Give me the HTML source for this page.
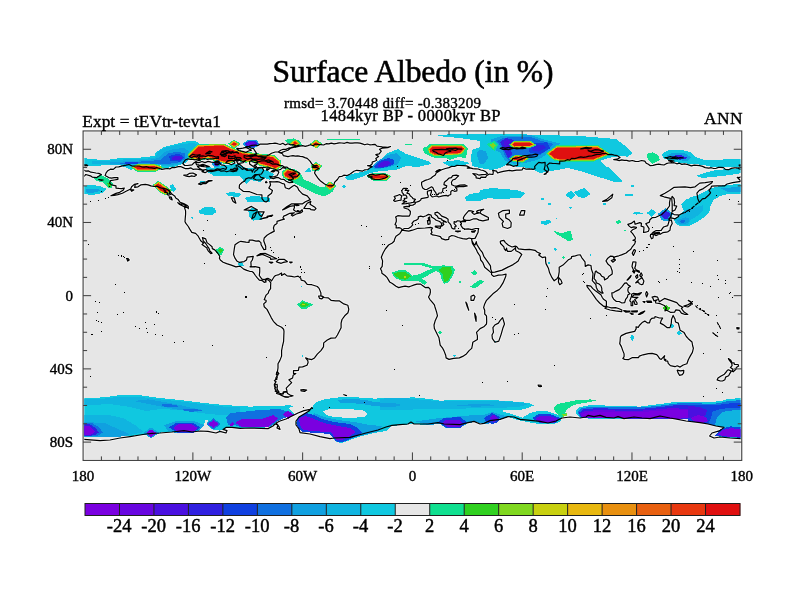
<!DOCTYPE html>
<html lang="en"><head><meta charset="utf-8"><title>Surface Albedo (in %)</title>
<style>html,body{margin:0;padding:0;background:#fff;}svg{display:block;}text{font-family:"Liberation Serif",serif;fill:#000;}</style></head><body>
<svg width="800" height="600" viewBox="0 0 800 600">
<rect x="0" y="0" width="800" height="600" fill="#ffffff"/>
<defs><clipPath id="mapclip"><rect x="84.3" y="132.15" width="656.25" height="327.05"/></clipPath></defs>
<rect x="84.3" y="132.15" width="656.25" height="327.05" fill="#e6e6e6"/>
<g clip-path="url(#mapclip)">
<path id="coast" fill="none" stroke-linejoin="round" d="M105.1 175.6 L106.1 172.9 L107.8 170.7 L110.4 169.2 L113.3 169.4 L116.0 167.0 L118.8 166.9 L121.5 166.1 L126.1 165.2 L129.0 164.5 L131.6 165.8 L134.3 166.1 L136.8 166.0 L139.3 166.0 L141.6 166.8 L144.1 167.1 L146.6 166.7 L149.0 167.6 L151.7 167.8 L154.5 168.3 L157.0 167.7 L159.4 168.5 L161.8 169.4 L164.5 168.8 L167.3 168.5 L169.8 168.9 L172.1 167.4 L174.6 167.6 L178.2 166.6 L181.1 166.7 L183.7 167.9 L185.6 168.7 L188.3 168.6 L191.0 167.9 L193.3 169.4 L195.9 169.0 L198.4 169.4 L201.2 169.9 L203.9 170.9 L202.0 171.6 L205.1 172.7 L208.1 171.0 L211.2 171.6 L214.8 170.9 L218.5 169.8 L221.0 171.2 L224.0 170.8 L226.7 171.8 L229.9 170.8 L233.1 171.6 L236.8 170.9 L237.7 168.5 L235.9 165.7 L239.5 164.1 L242.3 166.6 L244.1 168.5 L246.8 170.3 L251.4 169.8 L252.3 172.1 L253.5 169.4 L256.0 167.9 L259.2 167.6 L262.4 168.1 L263.7 170.3 L261.5 174.0 L257.8 174.5 L255.1 174.5 L253.3 176.2 L251.4 178.2 L248.6 177.8 L245.9 178.9 L244.6 181.1 L242.3 182.2 L239.5 184.9 L239.2 188.1 L243.2 191.3 L249.6 191.7 L256.9 194.5 L261.9 194.8 L262.0 198.7 L264.2 201.4 L266.1 202.0 L268.3 200.5 L267.9 195.9 L271.5 193.2 L272.5 190.4 L268.8 188.1 L270.6 184.9 L269.7 181.6 L272.2 181.8 L274.6 181.8 L277.0 181.6 L279.6 182.2 L281.9 183.3 L284.4 184.0 L285.3 187.7 L288.9 189.0 L292.6 186.2 L294.4 185.3 L297.5 187.2 L299.0 190.4 L302.6 194.1 L307.2 195.9 L310.3 199.6 L305.4 201.8 L302.6 203.8 L291.7 203.8 L287.1 206.4 L282.5 210.0 L284.4 209.3 L289.8 206.4 L294.4 205.6 L294.4 207.8 L293.5 209.7 L295.3 211.1 L296.2 211.7 L299.9 211.8 L302.1 209.7 L302.6 211.5 L300.8 212.9 L296.2 214.0 L292.6 216.1 L291.3 215.1 L294.4 212.8 L289.8 213.3 L286.2 215.1 L283.8 216.1 L282.9 217.9 L284.4 219.2 L281.6 219.9 L277.0 221.4 L277.0 223.4 L274.3 225.2 L273.4 228.0 L274.3 231.1 L270.6 233.1 L267.0 235.3 L264.2 238.0 L263.7 240.8 L265.7 246.3 L265.7 249.4 L263.9 249.6 L261.1 244.8 L260.9 242.6 L258.7 240.8 L256.0 241.1 L252.3 240.2 L249.2 240.2 L249.0 242.4 L245.9 242.2 L240.8 241.3 L238.6 242.2 L235.0 244.8 L234.4 248.1 L233.5 254.5 L235.0 258.2 L236.8 260.9 L239.5 262.4 L244.1 261.6 L246.5 260.0 L247.2 257.2 L253.3 256.3 L252.3 260.0 L250.9 262.0 L251.1 266.4 L250.0 266.8 L255.1 266.6 L259.7 267.7 L259.7 271.9 L259.3 275.5 L260.6 277.4 L262.0 279.2 L264.2 279.6 L266.4 278.7 L267.9 278.3 L270.6 279.8 L271.5 281.0 L274.3 276.5 L275.6 275.5 L278.9 274.6 L281.6 273.0 L281.6 275.5 L284.4 273.7 L287.1 275.9 L291.7 276.3 L294.4 277.0 L298.1 276.1 L300.8 278.3 L301.2 280.1 L304.5 281.0 L307.2 284.3 L311.8 284.7 L317.3 286.5 L319.1 288.4 L320.9 292.9 L320.9 295.7 L323.7 297.5 L328.3 297.9 L331.0 300.3 L335.6 300.8 L339.2 300.8 L343.8 303.9 L347.8 305.2 L348.8 309.4 L348.0 312.7 L344.7 315.8 L342.0 319.5 L341.1 323.1 L341.1 327.7 L339.2 331.4 L337.4 335.0 L335.6 337.8 L331.0 338.1 L327.3 340.0 L323.7 342.9 L323.5 346.9 L320.9 350.6 L317.3 354.2 L314.5 357.9 L311.8 359.6 L308.1 358.8 L305.6 357.9 L307.8 360.6 L308.1 362.5 L307.0 365.2 L302.6 366.9 L299.0 367.1 L298.4 370.4 L293.5 370.7 L293.5 373.5 L295.9 373.5 L293.1 375.3 L292.6 378.0 L288.9 379.9 L291.7 382.6 L288.9 385.4 L286.2 388.1 L287.1 391.4 L283.4 391.8 L282.5 394.1 L279.8 393.2 L277.0 391.8 L275.2 389.0 L274.3 384.4 L276.1 381.7 L274.3 380.8 L277.0 378.0 L277.0 375.4 L278.9 373.5 L277.4 371.6 L278.0 368.0 L278.0 363.8 L279.8 360.6 L281.6 356.1 L281.6 350.6 L282.5 346.0 L283.6 341.4 L283.8 335.9 L284.0 331.4 L283.6 329.2 L281.6 327.3 L277.0 325.0 L273.4 321.3 L271.2 317.6 L269.4 314.0 L267.0 309.4 L264.2 306.7 L263.7 303.9 L266.1 301.7 L266.1 300.3 L264.2 299.7 L265.1 297.5 L266.1 295.1 L268.3 293.1 L268.8 291.1 L270.6 288.7 L270.6 285.6 L270.8 282.9 L269.2 280.7 L267.0 279.2 L265.5 280.5 L266.1 281.9 L264.2 282.3 L262.4 280.7 L259.3 280.1 L256.9 277.4 L255.4 275.5 L253.3 272.4 L252.0 271.5 L249.6 271.3 L246.8 270.4 L243.7 269.1 L240.4 266.4 L238.6 266.4 L235.9 266.9 L231.3 265.1 L226.7 263.6 L223.1 262.2 L220.3 260.0 L219.4 258.2 L219.8 256.3 L217.6 253.0 L214.8 249.9 L212.3 248.6 L212.1 246.8 L209.3 244.4 L207.0 242.6 L205.7 238.9 L202.4 237.5 L203.3 240.8 L205.7 243.5 L207.5 246.3 L208.8 248.1 L209.9 250.8 L212.1 253.2 L210.8 253.6 L208.4 251.2 L207.1 249.0 L207.0 248.1 L204.8 246.6 L202.0 244.6 L203.5 243.0 L200.7 240.8 L198.9 237.5 L198.0 235.8 L195.6 233.4 L191.8 232.3 L189.6 228.9 L188.3 226.5 L185.9 223.4 L185.0 221.7 L185.2 218.8 L185.6 214.2 L185.6 210.9 L184.3 207.1 L187.4 207.3 L188.3 208.7 L188.3 206.4 L187.4 205.6 L183.7 203.6 L180.1 202.3 L178.2 199.6 L176.0 198.2 L174.6 195.9 L171.8 194.1 L169.1 190.4 L166.9 189.2 L164.5 188.6 L161.8 188.2 L159.4 187.4 L157.2 186.2 L154.0 186.5 L150.8 185.9 L148.1 184.9 L145.3 184.4 L140.7 184.9 L138.0 186.8 L134.7 187.3 L135.2 184.4 L138.0 183.7 L134.3 184.4 L131.6 186.8 L130.7 189.0 L126.1 191.3 L122.4 193.2 L117.9 194.6 L114.2 195.4 L110.9 195.7 L116.0 193.4 L119.7 192.3 L123.4 189.9 L124.3 188.1 L121.5 188.6 L118.8 188.4 L116.0 188.1 L116.0 185.9 L111.5 184.9 L109.6 183.1 L110.5 180.7 L114.2 180.0 L117.9 179.3 L117.9 177.6 L114.2 177.6 L111.5 178.1 L108.7 177.6Z M278.9 152.5 L282.1 152.4 L285.0 151.2 L288.0 150.2 L290.5 148.3 L293.5 147.4 L296.6 147.0 L299.6 146.2 L302.6 145.6 L305.3 146.3 L307.9 145.6 L310.5 144.7 L313.1 145.7 L315.7 144.0 L318.3 144.7 L320.9 144.7 L323.6 145.0 L326.1 143.7 L328.8 143.9 L331.3 143.1 L334.1 143.8 L336.7 143.4 L339.2 142.8 L341.9 143.0 L344.5 143.3 L347.1 142.4 L349.7 143.1 L352.3 143.1 L354.9 142.9 L357.5 142.8 L360.0 143.1 L362.4 143.9 L364.7 144.8 L367.3 144.0 L369.7 144.8 L372.2 144.7 L374.9 144.3 L377.0 146.1 L379.5 146.5 L382.2 146.9 L385.0 147.1 L387.7 147.3 L390.5 146.5 L387.8 147.7 L385.0 148.0 L382.1 148.2 L379.5 149.3 L381.3 151.1 L379.2 153.8 L375.8 154.7 L378.6 156.6 L375.8 158.4 L376.7 160.2 L374.5 161.2 L372.2 162.1 L372.2 163.9 L370.2 165.5 L367.6 165.7 L372.2 166.6 L370.3 167.6 L367.9 169.5 L364.9 169.8 L362.3 171.2 L359.4 170.7 L356.6 170.3 L353.9 171.2 L350.2 174.0 L347.2 175.5 L343.8 175.2 L341.7 176.5 L339.2 176.7 L337.4 179.5 L334.7 182.2 L333.8 184.9 L331.9 185.9 L329.2 185.5 L326.8 185.0 L324.6 184.0 L320.9 181.3 L318.2 178.5 L316.4 175.8 L314.5 173.0 L315.5 170.3 L319.1 168.5 L316.0 167.2 L312.7 167.6 L312.7 166.1 L317.3 165.7 L314.2 165.7 L311.8 163.9 L310.0 161.1 L307.2 158.4 L304.9 157.6 L302.6 156.6 L300.2 156.3 L297.8 155.8 L295.3 156.2 L292.9 155.6 L290.4 156.0 L288.0 156.6 L283.4 155.7 L282.5 153.8Z M367.6 175.8 L369.7 174.5 L372.2 174.1 L375.8 175.2 L379.5 174.5 L383.2 174.0 L385.9 174.9 L387.7 176.7 L385.0 178.0 L382.3 178.9 L379.5 179.5 L374.9 179.3 L371.3 178.7 L372.2 177.6 L368.5 176.9 L372.2 176.2Z M286.9 391.9 L287.6 393.6 L290.8 395.4 L293.1 395.8 L290.8 396.5 L287.1 396.9 L284.4 396.7 L281.6 395.4 L280.7 394.5 L283.4 394.0 L283.6 392.3Z M300.8 389.9 L303.6 389.6 L306.7 390.1 L304.5 391.4 L301.2 391.0Z M401.6 230.2 L408.8 231.2 L412.4 230.2 L417.9 228.3 L425.2 228.0 L430.7 227.4 L432.6 228.0 L431.1 229.8 L432.0 232.5 L430.7 233.8 L432.6 234.9 L436.2 235.5 L440.4 236.6 L441.7 238.6 L445.4 239.9 L448.7 239.3 L449.0 237.1 L451.8 235.5 L454.5 236.0 L458.2 237.5 L462.7 238.6 L466.4 239.1 L469.1 238.0 L471.5 238.6 L471.9 240.8 L472.4 243.5 L474.3 246.3 L476.5 249.9 L477.4 252.1 L480.1 256.3 L480.7 260.0 L482.9 262.7 L484.7 267.3 L487.4 269.5 L490.2 271.9 L491.6 272.8 L491.5 274.6 L493.8 276.5 L498.4 275.2 L502.1 275.0 L506.1 274.1 L505.7 276.5 L503.0 282.9 L500.2 287.4 L496.6 291.1 L492.9 293.8 L489.3 297.5 L486.5 300.3 L484.7 303.9 L483.6 307.6 L484.7 310.3 L484.7 314.0 L486.5 315.8 L486.7 321.3 L486.5 324.0 L483.8 326.8 L480.1 328.6 L476.5 332.3 L477.4 335.9 L477.4 339.6 L472.8 342.3 L472.4 345.1 L471.7 348.4 L469.1 350.6 L466.4 353.9 L462.7 356.4 L459.4 357.9 L453.6 358.3 L449.0 359.4 L446.1 357.9 L445.7 355.2 L443.9 350.6 L442.4 347.8 L440.2 345.1 L439.0 337.8 L437.1 334.1 L434.4 328.6 L434.0 325.0 L435.3 320.4 L437.5 315.8 L436.6 312.1 L434.9 306.7 L434.4 304.8 L432.6 302.6 L429.8 299.3 L428.5 297.0 L429.8 294.8 L430.4 292.0 L430.2 289.3 L428.5 287.4 L425.2 287.6 L422.5 285.6 L420.7 284.1 L417.0 284.1 L414.3 284.9 L410.6 286.2 L408.8 286.9 L405.1 286.2 L401.4 286.9 L398.7 287.6 L396.0 286.2 L392.3 283.4 L389.6 281.9 L388.3 279.6 L387.2 277.7 L385.0 275.5 L381.9 273.2 L381.7 271.0 L380.4 268.8 L382.2 266.4 L382.6 260.9 L381.3 257.2 L383.2 252.7 L385.3 249.0 L388.6 245.0 L392.3 243.0 L394.1 241.3 L394.7 238.9 L396.0 236.2 L399.6 233.8 L401.4 231.2Z M502.6 317.6 L504.5 324.0 L503.0 327.7 L501.2 334.1 L498.8 341.1 L495.1 342.3 L492.4 338.7 L492.0 335.0 L493.5 332.3 L492.9 327.7 L494.8 325.0 L498.4 323.1 L500.2 320.4Z M402.4 229.8 L400.9 228.3 L398.9 227.6 L396.1 228.0 L396.3 225.2 L395.0 224.8 L396.3 221.5 L396.3 218.8 L395.6 217.0 L397.8 215.7 L402.4 216.1 L406.0 216.2 L409.1 216.2 L410.2 214.2 L410.4 211.5 L408.4 209.3 L404.2 208.0 L403.8 206.9 L406.9 206.4 L409.5 206.7 L409.1 204.7 L410.4 205.4 L412.8 205.1 L415.2 203.8 L415.4 202.5 L418.8 201.4 L420.7 200.0 L421.2 198.7 L425.2 197.8 L428.0 197.4 L428.3 195.9 L427.4 194.1 L427.4 191.3 L430.4 190.4 L431.6 190.1 L431.3 192.3 L430.7 194.1 L430.4 195.0 L432.2 196.8 L434.4 196.5 L437.1 195.9 L438.6 197.0 L442.6 195.9 L446.3 195.4 L448.1 196.1 L449.0 195.2 L450.8 194.5 L450.8 191.7 L452.1 190.3 L454.5 191.3 L456.9 190.8 L456.9 189.0 L455.4 187.3 L459.1 186.6 L463.7 186.6 L467.3 186.0 L464.6 184.9 L460.0 185.1 L457.3 185.8 L454.5 186.0 L451.8 184.8 L451.4 182.2 L452.7 180.0 L455.3 179.1 L457.2 177.1 L458.7 175.8 L456.3 175.2 L452.7 175.6 L451.4 177.6 L448.9 178.1 L447.2 180.0 L444.4 182.2 L443.9 184.6 L446.8 185.9 L446.3 187.7 L443.0 188.6 L442.6 191.3 L441.7 192.8 L439.0 193.0 L438.4 194.3 L436.2 194.3 L435.8 192.6 L434.0 190.4 L432.9 187.7 L431.6 186.8 L429.8 187.7 L427.1 189.3 L424.9 189.5 L422.7 188.1 L421.6 184.9 L421.6 182.2 L425.2 180.4 L428.0 179.5 L430.7 178.5 L432.6 176.7 L435.3 174.9 L436.2 173.0 L439.0 171.2 L441.7 169.8 L445.4 168.5 L449.0 167.6 L451.6 166.4 L454.5 166.5 L456.9 165.4 L459.4 165.5 L463.7 165.7 L466.5 165.9 L469.1 167.0 L467.3 168.1 L470.1 167.9 L472.8 168.7 L475.5 168.8 L478.3 169.0 L480.7 170.0 L483.2 170.5 L485.6 171.6 L487.4 173.4 L485.6 174.5 L481.9 174.7 L479.1 175.2 L476.5 174.0 L472.8 173.6 L476.1 176.3 L476.1 177.8 L480.1 178.7 L481.0 177.1 L485.6 177.4 L486.5 175.8 L489.3 174.1 L492.9 174.5 L493.3 172.1 L492.6 170.3 L496.6 171.2 L497.5 173.0 L500.2 172.1 L503.3 171.4 L506.3 170.8 L509.4 170.3 L512.1 170.9 L516.7 170.1 L519.5 170.1 L522.2 169.8 L523.1 167.9 L526.2 169.2 L529.5 168.8 L533.2 169.4 L535.0 168.8 L534.6 166.6 L535.9 165.2 L538.7 162.4 L541.9 162.8 L545.1 162.4 L545.1 165.7 L544.2 169.4 L546.9 171.2 L546.0 174.0 L544.2 174.3 L547.8 172.1 L548.7 169.4 L546.9 165.4 L549.6 163.0 L552.4 163.3 L555.1 163.5 L559.7 163.9 L559.7 161.1 L562.2 161.1 L564.8 160.9 L567.2 159.7 L569.8 160.2 L571.6 158.4 L574.8 158.6 L577.7 157.7 L580.7 156.9 L583.5 157.4 L586.3 156.8 L589.0 156.1 L591.7 156.0 L594.4 155.2 L597.1 154.4 L600.0 154.3 L602.7 153.5 L605.6 153.3 L608.2 154.7 L611.3 154.3 L614.3 155.1 L617.3 155.7 L620.1 157.5 L617.1 159.2 L613.7 159.7 L616.5 159.9 L619.2 160.6 L621.7 159.9 L624.2 160.4 L626.7 160.4 L629.2 161.1 L632.3 160.5 L635.3 161.3 L638.4 161.5 L641.5 160.5 L644.8 161.1 L646.2 163.2 L648.4 164.3 L650.3 165.7 L653.1 165.4 L655.8 164.6 L658.5 164.1 L661.3 164.6 L664.0 165.0 L666.2 163.7 L668.6 163.0 L671.3 162.8 L674.1 162.7 L676.8 163.8 L679.5 163.2 L681.9 164.4 L684.4 163.9 L686.9 164.3 L689.2 165.1 L691.4 165.9 L694.2 165.1 L696.9 165.4 L699.7 165.7 L702.5 166.4 L705.2 167.6 L708.8 168.1 L711.3 167.7 L713.7 168.5 L716.1 168.3 L718.5 167.4 L721.0 167.3 L723.5 167.6 L725.3 169.4 L728.5 169.7 L731.4 168.4 L734.4 167.9 L737.0 167.8 L739.3 168.9 L741.8 169.4 L742.6 171.8 L741.7 174.3 L741.8 176.7 L739.0 177.6 L737.2 177.3 L739.9 180.0 L740.8 181.3 L732.6 182.6 L727.1 184.0 L724.4 185.9 L717.1 185.9 L711.6 186.2 L710.6 188.6 L708.8 189.9 L710.6 192.8 L708.8 195.0 L705.2 198.3 L702.4 198.9 L699.3 202.3 L697.8 198.7 L696.9 193.2 L699.3 190.4 L703.3 188.6 L707.0 185.9 L711.6 183.1 L712.5 181.5 L705.2 182.7 L699.7 183.1 L695.1 186.8 L690.5 187.7 L685.0 186.8 L678.6 187.1 L674.1 187.3 L669.5 190.4 L664.9 193.2 L660.3 195.6 L664.0 196.8 L670.4 198.3 L669.5 202.3 L669.5 206.0 L666.7 209.7 L662.2 214.2 L655.8 217.3 L652.1 217.7 L649.9 219.7 L649.4 222.1 L645.7 223.7 L647.5 226.1 L649.2 228.9 L648.4 231.2 L645.7 232.2 L643.5 232.5 L643.9 228.9 L643.9 227.0 L641.1 226.1 L641.5 223.4 L639.8 222.6 L635.1 224.3 L634.4 221.0 L631.1 223.4 L627.8 224.3 L629.2 226.1 L631.1 227.6 L633.8 226.9 L636.5 227.4 L636.0 228.3 L632.5 229.8 L630.7 231.6 L632.5 233.4 L635.3 237.5 L635.3 239.3 L632.9 240.2 L635.6 241.1 L634.7 243.9 L632.0 247.2 L630.5 249.6 L628.3 251.0 L626.1 253.0 L621.5 254.9 L618.8 255.8 L614.6 256.9 L614.0 258.5 L613.1 256.3 L610.6 256.1 L607.8 258.2 L606.0 260.9 L607.8 264.0 L610.6 266.4 L612.2 271.0 L612.2 274.1 L608.6 276.6 L607.6 278.3 L604.5 279.9 L604.2 277.4 L601.8 276.3 L600.0 273.7 L597.2 272.4 L596.5 271.0 L595.4 271.3 L594.5 275.5 L594.1 278.7 L595.9 280.7 L596.3 282.9 L598.7 283.8 L600.9 285.6 L601.8 288.4 L601.8 290.9 L603.1 293.1 L601.6 293.1 L597.8 290.6 L596.3 287.4 L595.9 284.7 L592.3 280.7 L592.6 277.4 L593.0 273.7 L591.4 269.1 L591.0 265.5 L588.1 264.9 L585.3 266.4 L585.0 261.8 L581.7 257.6 L580.4 254.9 L578.0 255.0 L575.3 255.8 L571.6 256.7 L571.2 258.5 L568.3 259.8 L563.0 265.1 L559.2 267.3 L559.2 271.9 L558.4 276.6 L557.0 278.7 L555.5 279.8 L554.2 280.8 L552.0 277.7 L549.6 272.8 L548.4 268.2 L546.0 263.6 L545.6 260.9 L545.6 257.2 L544.2 257.2 L542.3 257.6 L538.7 254.9 L540.5 253.6 L537.4 252.3 L535.0 250.3 L529.5 249.4 L524.9 249.6 L518.5 248.8 L516.7 246.6 L515.2 246.1 L512.1 247.0 L508.5 245.3 L505.4 242.6 L503.9 240.4 L501.2 240.8 L500.2 241.7 L500.6 243.5 L503.9 246.8 L504.3 248.8 L505.7 250.5 L506.6 248.1 L506.8 249.9 L507.6 251.4 L511.2 251.4 L514.9 248.5 L515.4 247.5 L515.8 250.8 L519.5 252.5 L521.8 254.5 L519.5 258.3 L518.2 260.9 L515.8 262.7 L513.1 264.6 L507.9 267.1 L502.1 270.1 L494.8 272.2 L492.0 272.4 L490.7 269.1 L490.5 265.8 L487.4 261.3 L483.8 256.3 L482.5 252.7 L480.1 249.6 L476.8 244.4 L476.3 241.7 L475.2 244.4 L475.0 245.0 L473.7 244.1 L472.1 240.9 L471.5 238.6 L475.0 238.4 L476.5 235.6 L478.1 232.3 L478.3 229.8 L478.7 228.5 L475.5 228.5 L471.9 229.6 L468.2 228.9 L465.5 229.2 L462.7 228.1 L460.9 225.4 L461.5 223.4 L460.4 222.5 L461.8 221.5 L465.5 221.7 L465.7 220.3 L470.1 220.3 L473.7 218.8 L476.5 218.8 L479.2 220.1 L482.9 220.8 L488.4 219.7 L488.4 217.5 L485.1 215.9 L481.9 214.2 L480.1 212.9 L481.0 210.6 L483.8 209.3 L481.9 209.5 L477.0 210.9 L476.5 212.0 L479.2 212.8 L477.0 213.3 L474.1 214.4 L471.9 212.6 L473.7 211.5 L471.0 210.9 L468.8 210.6 L466.8 212.9 L464.9 215.1 L463.7 217.0 L463.3 218.3 L464.0 219.7 L465.5 220.1 L463.7 220.6 L461.8 221.2 L460.4 221.9 L460.0 221.0 L457.2 220.8 L456.0 222.1 L454.1 221.7 L454.1 223.7 L455.1 224.7 L456.3 226.1 L454.9 226.5 L454.9 228.9 L453.4 228.9 L452.1 228.3 L451.2 226.5 L451.2 225.6 L449.9 223.7 L448.1 221.9 L448.1 219.2 L446.3 217.9 L441.7 216.1 L439.9 214.2 L438.6 212.9 L437.5 212.2 L434.9 212.8 L435.1 214.6 L437.3 216.1 L438.4 218.1 L441.7 219.0 L441.7 219.9 L445.4 221.5 L446.3 222.3 L445.2 221.9 L443.5 221.5 L442.8 223.0 L443.9 224.3 L442.6 225.6 L441.1 226.2 L441.7 224.5 L441.0 222.5 L439.0 221.2 L436.2 220.3 L434.0 218.4 L431.6 217.0 L431.1 215.1 L428.5 214.4 L426.1 215.7 L423.4 216.8 L420.7 216.2 L418.3 216.8 L418.3 218.8 L416.5 220.1 L413.9 221.0 L411.9 223.4 L412.8 224.8 L411.1 226.7 L408.8 228.3 L404.4 228.5Z M83.1 169.6 L85.6 171.1 L88.6 170.9 L90.8 172.2 L93.4 172.5 L95.9 173.0 L98.8 173.4 L101.4 174.5 L96.8 177.6 L92.2 177.1 L90.4 175.8 L85.8 174.5 L84.0 176.3 L83.1 176.7 M402.0 204.0 L406.0 203.6 L410.6 202.9 L415.0 202.0 L413.7 201.4 L415.5 199.4 L413.0 198.7 L412.4 197.6 L410.2 195.7 L409.3 193.9 L406.9 193.2 L408.8 190.3 L405.1 190.3 L406.8 188.4 L403.3 188.4 L401.8 190.8 L402.2 192.6 L403.6 194.1 L403.1 195.2 L406.0 195.2 L406.9 197.0 L406.8 198.1 L404.2 198.3 L404.7 199.6 L402.9 200.9 L406.6 201.6 L404.7 202.0Z M401.1 200.1 L401.1 198.1 L401.8 195.9 L399.6 194.5 L396.9 195.7 L394.1 196.5 L395.4 198.3 L393.6 200.5 L395.0 201.4 L398.7 200.5Z M432.6 150.2 L435.3 149.7 L438.0 149.6 L441.7 149.3 L445.4 149.6 L448.3 150.0 L450.8 151.4 L447.2 152.0 L445.0 153.3 L443.5 155.3 L440.8 154.5 L438.0 153.8 L436.0 152.2 L433.5 151.4Z M446.3 148.9 L449.4 148.3 L452.7 148.3 L455.8 148.1 L458.8 149.1 L461.8 149.1 L458.4 148.9 L455.4 150.5 L452.3 149.7 L449.0 150.2Z M506.6 164.8 L509.4 162.1 L511.6 160.6 L513.1 158.4 L516.2 158.2 L519.2 157.2 L522.2 156.2 L524.7 155.5 L527.4 155.7 L530.0 155.2 L532.5 154.8 L535.1 154.1 L537.8 154.7 L536.8 156.2 L534.3 157.0 L531.7 157.2 L529.1 157.0 L526.5 157.2 L524.0 158.0 L520.9 159.4 L517.6 160.6 L517.6 165.4 L513.1 166.3 L510.0 164.8Z M588.1 150.7 L590.6 151.2 L593.0 150.4 L595.4 149.6 L598.2 149.9 L600.9 150.3 L603.6 151.1 L600.5 152.3 L597.2 152.5 L594.7 152.7 L592.3 152.1 L589.9 151.4Z M586.2 147.4 L589.0 147.8 L591.7 147.8 L588.1 148.9 L585.6 148.2 L583.2 148.6 L580.7 148.9 L583.5 148.1Z M664.9 157.5 L667.7 157.3 L670.4 156.6 L672.8 157.4 L675.3 156.8 L677.7 157.5 L680.4 158.0 L683.2 157.9 L680.3 157.6 L677.7 158.8 L674.7 158.3 L671.6 158.6 L668.6 159.0Z M668.6 160.6 L671.3 160.7 L674.1 161.0 L671.3 161.7Z M500.2 148.3 L502.6 147.5 L505.2 148.1 L507.6 147.6 L510.6 147.4 L513.7 148.0 L516.7 147.8 L519.6 148.3 L522.2 147.1 L525.9 148.2 L522.8 148.6 L519.8 148.7 L516.7 148.9 L514.0 148.1 L511.2 148.8 L508.5 149.6 L505.7 149.1 L502.9 149.4Z M739.0 165.2 L741.8 164.8 L741.8 165.9 L739.9 166.1Z M83.1 164.8 L86.8 164.8 L87.7 165.7 L83.1 165.9 M651.9 233.4 L654.8 232.9 L659.4 232.3 L659.8 234.4 L662.7 232.7 L666.4 232.2 L668.2 231.6 L670.0 230.3 L670.4 227.0 L672.2 223.4 L671.3 219.9 L669.1 220.6 L668.6 222.8 L667.7 225.6 L663.6 227.0 L662.5 228.3 L661.2 230.3 L655.8 230.7 L653.0 232.3Z M668.9 219.7 L670.8 216.6 L671.7 212.6 L674.1 214.6 L678.3 214.8 L678.6 216.4 L675.0 218.8 L671.3 217.9 L669.1 218.3Z M650.6 234.4 L653.4 234.4 L653.0 238.0 L651.6 238.8 L650.3 236.2Z M654.8 233.8 L658.5 233.1 L658.0 234.7 L655.8 235.6 L654.5 234.7Z M672.2 196.3 L674.1 198.7 L674.6 202.3 L674.1 205.6 L676.8 206.0 L675.0 210.0 L672.2 211.5 L672.2 207.8 L672.2 204.2 L671.9 200.5 L671.7 197.9Z M634.7 249.6 L635.6 250.8 L633.4 255.4 L632.2 253.2 L633.8 249.9Z M614.6 259.1 L615.5 260.0 L612.8 262.2 L611.3 260.5Z M558.8 277.7 L561.0 280.1 L562.1 282.9 L559.7 284.7 L558.4 281.9Z M632.9 261.8 L636.0 262.0 L635.6 265.5 L634.7 268.2 L636.5 270.1 L639.3 271.0 L639.3 272.4 L636.5 271.0 L633.8 270.6 L633.1 269.1 L632.0 266.4 L632.5 263.6Z M635.6 282.9 L638.4 280.1 L642.0 277.7 L643.9 281.0 L643.0 284.1 L641.7 284.7 L639.3 283.8 L638.4 281.9Z M627.0 280.1 L631.1 275.5 L630.5 277.0 L627.9 279.9Z M639.8 275.5 L641.1 272.8 L642.4 275.2 L641.1 277.0Z M635.6 276.5 L637.5 274.6 L637.8 277.4 L636.5 278.3Z M632.5 271.1 L634.7 271.5 L634.2 273.2Z M611.8 292.9 L613.7 292.6 L616.1 291.1 L619.2 289.6 L621.9 286.9 L624.7 283.2 L626.5 282.9 L628.3 285.1 L630.5 286.2 L628.3 287.8 L627.8 290.2 L628.3 292.0 L630.1 293.8 L627.9 294.8 L627.4 297.1 L625.6 299.3 L624.7 302.6 L621.9 303.0 L619.2 301.5 L616.4 301.5 L613.7 299.3 L612.2 296.6Z M586.8 285.4 L590.8 286.2 L592.6 288.4 L595.4 290.7 L597.2 292.0 L600.9 294.8 L602.3 297.5 L603.6 299.3 L606.4 301.2 L606.4 306.3 L603.6 306.3 L599.6 303.0 L596.3 299.3 L593.6 295.3 L590.8 291.5 L587.2 286.9Z M604.9 308.1 L607.3 306.7 L610.9 307.8 L615.5 307.6 L618.6 308.5 L621.9 310.0 L621.7 311.6 L615.5 310.9 L610.0 310.0 L606.9 309.0Z M631.6 294.2 L633.4 293.3 L637.5 293.8 L641.5 292.7 L639.3 294.9 L633.8 294.9 L632.2 297.1 L634.7 297.3 L638.0 297.3 L635.6 299.0 L634.7 299.3 L637.1 303.0 L636.9 304.5 L634.9 304.3 L633.8 300.8 L632.7 301.2 L632.7 305.7 L631.1 305.7 L631.1 302.1 L629.8 300.8 L631.6 295.9Z M652.1 297.1 L654.8 296.4 L657.6 297.1 L659.4 301.7 L664.5 298.4 L670.4 300.4 L676.8 302.6 L679.2 305.4 L682.8 307.2 L681.4 308.5 L684.1 312.1 L687.8 314.5 L685.0 314.5 L681.4 313.1 L679.5 310.3 L675.9 309.8 L674.6 312.1 L670.4 312.3 L666.7 310.3 L664.9 310.9 L666.4 308.1 L664.9 305.7 L660.3 303.7 L655.8 303.0 L655.4 301.2 L657.2 299.7 L653.9 300.8 L653.0 298.4Z M683.8 306.1 L686.9 305.2 L690.5 303.4 L691.1 304.8 L687.8 307.0Z M688.3 300.4 L691.4 302.1 L692.4 304.1 L690.9 302.3Z M645.7 293.8 L646.6 291.6 L647.9 293.8 L646.6 297.0Z M646.6 301.2 L651.2 301.2 L651.7 302.4 L647.5 302.3Z M643.0 301.5 L645.1 301.5 L644.4 302.6Z M623.7 310.7 L626.5 310.9 L630.1 311.0 L629.2 311.8 L625.6 312.1Z M631.6 311.0 L637.5 310.9 L637.1 311.8 L632.0 312.0Z M630.1 313.1 L633.4 314.0 L632.0 314.5Z M638.4 314.5 L641.1 312.5 L644.8 311.0 L643.0 312.9 L640.2 314.3Z M620.4 337.0 L621.4 335.6 L626.1 333.4 L630.1 332.3 L634.7 331.4 L636.2 328.6 L636.0 326.8 L638.4 327.3 L639.3 325.5 L642.6 322.2 L644.8 321.1 L647.2 322.8 L649.5 322.9 L650.3 320.0 L651.7 318.4 L654.8 317.8 L655.0 316.5 L659.4 318.0 L662.7 318.0 L661.2 320.4 L660.3 323.1 L663.1 324.6 L667.3 327.7 L670.0 327.7 L671.3 323.1 L671.5 319.5 L673.1 315.4 L675.0 319.1 L675.5 322.0 L678.3 323.1 L679.5 327.7 L680.1 330.3 L684.1 332.6 L686.3 336.5 L688.3 338.7 L692.0 342.0 L692.7 346.0 L693.4 348.2 L692.4 352.4 L690.2 356.1 L688.3 359.7 L686.9 363.8 L683.2 365.0 L680.1 367.1 L677.2 365.8 L675.0 366.7 L670.4 365.6 L668.2 363.4 L667.7 361.2 L665.3 360.8 L665.8 359.4 L664.5 360.1 L664.0 357.9 L664.7 355.7 L663.1 357.4 L661.2 359.4 L659.8 358.8 L658.0 356.1 L656.7 354.6 L652.1 353.3 L648.4 353.7 L643.0 354.8 L639.3 356.1 L638.4 357.7 L632.0 357.7 L628.3 359.7 L624.7 359.4 L622.8 358.5 L624.1 356.6 L624.1 353.9 L622.8 350.6 L621.4 346.6 L619.7 343.6 L620.1 341.1Z M677.2 370.2 L680.5 370.9 L683.8 370.4 L683.6 372.9 L682.3 374.7 L679.5 375.3 L678.1 372.9Z M728.4 358.6 L730.8 360.3 L732.2 363.0 L734.1 362.8 L734.4 364.5 L738.1 364.5 L738.6 366.1 L736.3 367.6 L735.9 369.3 L733.2 371.8 L732.2 371.3 L733.0 369.3 L730.4 367.6 L732.1 365.6 L731.7 363.4 L728.9 359.7Z M728.4 369.8 L731.3 371.1 L729.3 374.4 L728.6 375.8 L725.6 377.1 L724.9 379.7 L722.5 381.0 L720.3 381.0 L717.1 379.9 L718.0 378.0 L720.7 376.2 L724.4 374.2 L726.2 372.0 L727.5 370.2Z M292.6 182.4 L289.2 182.6 L286.2 181.3 L283.8 179.3 L280.7 179.1 L278.6 177.7 L276.1 177.6 L273.4 178.6 L270.6 178.0 L269.7 176.3 L272.2 176.9 L274.6 176.6 L277.0 175.8 L278.0 174.0 L278.9 172.1 L277.0 170.3 L274.4 169.0 L271.5 168.5 L267.9 167.0 L264.9 167.5 L261.8 167.3 L258.7 167.6 L255.9 167.9 L253.3 166.6 L249.6 163.9 L249.6 161.5 L252.6 159.9 L256.0 160.6 L258.7 161.8 L261.5 160.9 L264.2 160.8 L267.0 161.7 L269.7 162.4 L272.2 164.1 L275.2 163.9 L277.7 164.4 L280.0 165.6 L282.5 165.7 L284.6 167.2 L287.1 167.2 L289.8 169.4 L292.8 169.9 L295.3 171.6 L297.8 172.0 L299.9 173.4 L297.2 176.7 L292.6 177.1 L288.9 174.5 L291.6 176.4 L293.5 178.9 L290.8 179.8 L288.0 179.5 L290.2 180.6 L292.6 181.3Z M247.8 155.8 L250.4 155.3 L253.0 155.8 L255.6 155.1 L258.2 156.6 L260.8 155.8 L263.4 156.1 L266.1 156.2 L268.9 154.9 L271.5 153.3 L275.2 152.0 L278.2 152.0 L280.7 150.2 L283.2 149.3 L285.9 149.4 L288.4 148.2 L291.0 147.6 L293.5 146.9 L296.3 146.1 L299.0 145.2 L296.1 146.0 L293.5 144.6 L290.7 144.9 L288.0 143.8 L285.4 144.9 L282.8 143.3 L280.2 144.5 L277.6 143.7 L275.0 143.1 L272.3 143.5 L269.7 143.6 L267.3 144.2 L264.8 144.0 L262.4 144.2 L259.9 144.2 L257.6 145.7 L255.1 145.0 L252.0 145.4 L249.0 146.3 L245.9 146.5 L248.5 146.6 L250.7 148.1 L253.3 148.3 L255.1 151.1 L256.9 153.8 L253.9 154.5 L250.8 155.1Z M236.8 148.3 L239.9 148.6 L242.9 148.2 L245.9 147.4 L248.7 148.7 L251.4 150.2 L248.6 151.0 L245.9 152.4 L243.5 151.7 L241.1 151.1 L238.6 150.5Z M266.1 157.5 L264.2 159.3 L261.5 158.8 L258.7 159.3 L256.0 159.1 L253.3 159.2 L250.5 158.1 L247.8 159.1 L244.1 157.5 L244.1 155.5 L246.6 156.1 L249.2 156.2 L251.7 156.8 L254.4 155.6 L256.9 156.0 L259.9 156.7 L262.9 157.6Z M220.3 169.4 L217.2 168.8 L214.3 170.3 L211.2 170.1 L208.3 170.7 L205.7 169.5 L202.8 170.2 L200.2 168.8 L197.4 166.6 L200.6 165.6 L203.9 165.7 L201.3 166.4 L199.0 164.9 L196.5 164.8 L195.6 162.4 L198.9 162.6 L202.0 161.5 L205.0 162.6 L208.1 161.4 L211.2 162.1 L213.6 162.4 L216.1 161.9 L218.5 161.5 L221.2 164.8 L224.4 165.4 L226.7 167.6 L225.8 169.4 L223.1 168.5Z M182.8 163.5 L184.7 165.5 L187.4 165.5 L192.0 164.8 L193.8 163.0 L196.7 161.0 L200.2 160.2 L197.9 158.9 L195.3 159.8 L192.9 159.3 L190.4 159.5 L188.0 158.9 L185.6 159.7 L183.7 162.1Z M198.4 158.0 L201.3 159.2 L204.5 158.5 L207.5 159.3 L210.2 158.9 L213.0 158.9 L215.7 158.3 L218.5 158.4 L218.5 156.6 L216.0 157.0 L213.6 156.2 L211.2 155.7 L208.4 155.3 L205.7 156.5 L202.9 155.9 L200.2 156.2Z M228.6 158.4 L231.8 158.3 L235.0 158.4 L235.0 155.7 L231.8 156.8 L228.6 155.7Z M225.8 163.0 L228.7 163.5 L231.3 164.8 L235.0 163.0 L233.1 160.6 L230.4 160.4 L227.6 160.8Z M237.7 163.5 L240.4 163.1 L243.2 162.6 L245.9 160.6 L242.6 161.3 L239.5 160.1 L236.8 161.5Z M253.3 178.5 L256.0 175.2 L258.7 174.5 L260.9 177.3 L264.2 178.2 L260.6 180.0 L256.0 179.8Z M230.4 169.4 L232.9 169.3 L235.0 167.9 L237.7 169.4 L234.0 170.3Z M189.2 156.6 L191.6 157.8 L194.1 156.3 L196.5 156.9 L200.2 154.7 L197.7 155.1 L195.3 155.0 L192.9 154.2Z M222.1 152.4 L225.1 153.3 L228.3 152.7 L231.3 153.3 L233.1 151.4 L230.6 152.0 L228.2 150.9 L225.8 150.5Z M266.1 181.3 L267.0 182.6 L265.5 182.6Z M303.9 208.4 L307.2 203.2 L310.9 201.4 L310.0 204.2 L314.5 206.9 L316.0 208.7 L314.5 210.2 L310.9 209.7 L310.0 208.6Z M256.9 255.8 L260.6 253.6 L265.1 253.4 L271.5 256.3 L276.7 258.7 L270.6 259.3 L270.6 258.0 L266.1 256.0 L262.4 254.5 L258.7 255.4Z M276.3 261.8 L278.9 259.3 L284.4 259.4 L287.3 261.6 L283.4 262.4 L281.2 263.3 L278.0 262.4Z M269.2 262.0 L272.8 262.4 L271.2 263.1Z M289.5 262.0 L292.2 262.2 L290.8 262.9Z M177.7 202.7 L180.3 204.1 L183.2 203.8 L186.5 206.9 L183.7 206.4 L179.2 204.2Z M169.1 196.8 L171.3 197.2 L172.2 200.0 L170.0 198.7Z M130.7 189.9 L133.8 189.9 L131.6 191.3Z M98.7 179.5 L103.2 180.0 L101.4 180.4Z M297.2 210.6 L299.0 210.8 L297.5 211.5Z M294.4 204.5 L299.0 205.3 L296.2 205.6Z M435.3 226.1 L441.0 225.8 L440.1 228.5 L435.3 226.9Z M427.4 220.6 L430.2 220.6 L430.0 223.9 L428.0 224.3Z M428.2 217.9 L429.6 217.0 L429.8 219.7 L428.5 219.5Z M455.4 231.1 L460.5 231.2 L457.8 231.8Z M471.5 231.6 L475.5 230.5 L474.3 232.2 L472.1 232.2Z M498.4 213.3 L503.0 210.6 L509.4 210.0 L509.4 213.3 L505.7 214.2 L505.7 217.9 L509.0 219.7 L511.2 222.5 L510.9 227.0 L507.6 228.5 L503.0 227.0 L502.1 223.4 L503.5 221.5 L499.3 217.3Z M519.5 215.1 L521.3 210.6 L524.9 210.6 L524.0 215.1Z M602.7 201.4 L606.4 199.6 L612.8 194.1 L611.8 197.8 L607.3 200.9Z M471.0 296.2 L473.7 295.1 L475.0 296.6 L473.7 300.3 L471.0 300.3Z M465.8 302.1 L466.9 303.9 L468.8 310.3 L467.3 306.7Z M474.6 313.2 L476.1 316.7 L476.1 321.3 L475.2 317.6Z M244.1 210.0 L251.4 206.4 L257.5 210.0 L253.3 210.6 L247.8 210.2Z M251.8 218.8 L253.3 214.2 L256.9 211.8 L254.5 217.0Z M257.8 211.8 L264.2 211.8 L261.5 216.6 L259.7 215.1Z M260.0 219.2 L267.9 217.3 L264.2 217.9Z M267.0 216.4 L272.8 215.1 L271.5 216.4Z M231.3 197.8 L234.0 197.8 L235.9 203.2 L233.1 201.4Z M198.4 184.0 L200.8 184.7 L203.2 183.5 L205.7 183.7 L208.5 181.5 L212.1 180.7 L208.7 180.5 L205.7 182.2 L202.9 182.5 L200.2 183.1Z M183.7 175.2 L186.9 175.0 L189.7 173.3 L192.9 173.0 L196.5 174.9 L194.3 176.5 L191.6 175.9 L189.2 176.7 L186.4 176.1Z M318.6 296.0 L321.9 296.0 L323.7 297.1 L321.9 298.8 L319.5 298.4Z M127.0 259.3 L127.9 258.5 L129.2 260.0 L127.7 261.1Z M265.1 160.8 L268.4 159.9 L271.5 161.0 L273.4 162.2 L270.6 161.3 L267.9 162.4Z M235.9 157.3 L240.4 157.5 L241.4 159.0 L236.8 159.0Z M220.3 154.4 L222.8 154.3 L225.3 154.0 L227.6 153.3 L229.5 151.8 L226.9 152.5 L224.6 150.9 L222.1 151.1Z M233.1 152.9 L235.9 152.1 L238.6 153.3 L236.8 151.8Z M207.5 152.5 L212.1 151.8 L209.3 151.1Z M205.7 153.8 L210.3 153.5 L206.6 152.9Z M221.2 155.7 L224.9 156.6 L226.7 155.1 L223.1 154.7Z M234.0 160.4 L237.7 160.6 L238.6 159.9 L235.0 159.7Z M214.8 162.8 L219.4 162.6 L218.5 160.8 L215.7 161.3Z M202.0 166.5 L206.6 167.0 L209.3 166.6 L205.7 165.4 L203.0 164.4 L200.2 165.2 M214.8 164.3 L218.5 164.6 L220.0 163.0 M251.4 161.5 L255.1 162.8 L257.8 162.1 L256.9 164.3 L254.2 165.4 L256.9 166.8 M276.1 170.9 L278.4 170.0 L280.7 169.4 L282.5 167.6 L286.2 168.5 M288.9 174.5 L292.6 173.0 L295.3 173.4 L292.7 174.8 L289.8 175.4 M247.8 169.4 L245.0 168.3 L242.3 169.4 L240.4 167.6 L237.7 166.1 M258.7 167.7 L257.3 169.8 L255.1 171.2 L254.2 172.7 M273.4 171.9 L275.2 170.7 L272.5 170.7 L271.2 171.6Z M267.0 170.5 L269.4 168.8 L266.4 168.8Z M276.7 372.2 L278.0 372.9 L277.8 375.1 L276.3 374.7Z M276.1 376.2 L277.4 377.1 L275.6 378.0 L277.0 379.1 L275.2 379.9 M274.7 383.5 L276.1 384.4 L274.3 385.9 L275.9 387.2 L274.7 388.7 L276.1 389.9 L275.2 391.2 L277.4 392.3 L276.5 393.4 L279.8 394.5 L282.0 395.8 L285.3 397.1 L288.9 397.4 M277.0 383.9 L277.4 386.3 L277.0 388.3 L277.8 390.5 L279.2 391.9 M163.1 189.5 L165.8 191.0 L164.5 192.1 L167.6 192.8 L167.3 194.6 L169.5 195.4 M168.2 190.4 L170.0 192.1 L169.1 193.7 L171.3 194.6 M435.3 171.8 L438.0 170.9 L440.8 169.9 L439.5 169.6 L436.2 171.0 M343.3 394.5 L346.6 395.6 M678.8 215.3 L681.0 214.0 L684.7 212.4 M685.6 211.8 L688.0 210.6 L690.5 209.3 M691.3 208.7 L692.9 207.3 L694.5 206.0 M695.3 205.3 L696.7 204.0 L698.4 202.7 M712.5 332.5 L715.2 334.7 L718.0 336.7 M717.2 322.2 L718.3 324.6 M718.9 325.3 L720.3 328.1 M695.5 305.7 L697.5 308.1 M698.8 308.5 L700.6 310.0 M701.5 310.0 L704.8 311.4 M704.6 312.7 L706.6 313.8 M707.0 314.3 L709.2 315.4 M736.8 327.7 L739.2 327.9 L738.8 329.0 L737.0 328.8Z M538.1 385.0 L541.2 385.4 L540.5 386.6 L538.7 386.3Z M83.0 439.4 L100.0 440.6 L110.0 440.0 L120.0 438.0 L130.0 436.6 L140.0 435.0 L146.0 434.0 L152.0 433.4 L160.0 433.0 L172.0 432.0 L184.0 430.6 L192.0 432.0 L200.0 431.0 L208.0 431.4 L216.0 433.0 L220.0 431.4 L226.0 433.0 L227.0 430.6 L223.0 429.4 L226.0 427.4 L232.0 427.4 L240.0 428.4 L250.0 428.0 L268.0 428.6 L273.0 426.0 L275.0 424.0 L278.0 425.0 L277.0 428.0 L280.0 429.4 L279.0 426.6 L276.0 423.0 L280.0 421.0 L286.0 419.0 L292.0 416.0 L298.0 413.0 L304.0 410.6 L310.0 409.4 L312.0 407.4 L309.0 411.0 L304.0 414.0 L299.0 417.0 L296.0 421.0 L296.0 425.0 L299.0 429.0 L300.0 432.6 L310.0 434.0 L320.0 436.6 L330.0 438.6 L334.0 438.0 L350.0 437.4 L366.0 433.0 L378.0 430.0 L386.0 427.0 L392.0 425.4 L400.0 424.6 L408.0 424.0 L411.0 422.0 L414.0 424.0 L428.0 424.0 L438.0 422.6 L444.0 424.0 L460.0 424.6 L468.0 422.6 L474.0 421.4 L480.0 424.0 L484.0 423.4 L490.0 420.6 L500.0 419.4 L508.0 416.6 L514.0 417.0 L520.0 419.4 L528.0 420.2 L540.0 421.4 L548.0 423.0 L556.0 421.0 L562.0 418.0 L570.0 417.0 L580.0 418.0 L586.0 417.0 L588.0 415.4 L594.0 416.6 L600.0 415.4 L606.0 417.4 L614.0 418.0 L618.0 416.6 L624.0 418.6 L634.0 417.0 L642.0 418.0 L650.0 418.6 L660.0 416.0 L670.0 418.0 L678.0 419.4 L686.0 421.0 L700.0 422.6 L708.0 424.0 L716.0 426.0 L724.0 427.4 L720.0 430.6 L712.0 433.0 L709.6 436.0 L714.0 438.0 L720.0 437.0 L730.0 438.0 L741.6 438.6"/>
<use href="#coast" stroke="#fff" stroke-opacity="0.5" stroke-width="3.2"/>
<g id="patches" shape-rendering="crispEdges">
<polygon fill="#10c8e0" points="83,158 92,159.2 106,160 120,158 140,157.6 154.4,156 155.6,152.4 164,147 176,144 188,141 197,141.6 200,145 192,150 189,158 188,161 184,163.6 174,167 164,168 161,165.6 155,164 137,164 132.4,167 131.6,170.4 127,168 120,165 106,165 92,166.4 83,165"/>
<polygon fill="#10b4e0" points="92,161 106,161 120,159.6 140,159 155,158 158,151.6 166,147.6 180,144.4 192,143 197,144 192,149 189,157 187,161 181,164 170,166.4 162,165.6 156,164 137,164 132.4,166 120,164.8 106,164.4 92,164.4"/>
<polygon fill="#10a0e0" points="110,162.4 130,161 148,160 159,158 164,152 174,149 184,148 189,151 187,158 182,162.4 172,165 162,164.6 138,163.6 120,164 110,164"/>
<polygon fill="#1070e0" points="120,162.8 140,161.6 160,160 168,153.6 178,151.6 185,153.6 185,159 179,162.4 168,164 160,163.6 138,163.4 120,163.8"/>
<polygon fill="#1040e0" points="125,162.4 138,161.6 138,163.6 125,164"/>
<polygon fill="#1040e0" points="169,156 179,153.6 184.4,157.6 179.6,161.6 170.4,161"/>
<polygon fill="#4a10e0" points="172,157 179,155.6 182.4,158 178.4,160.4 172.4,159.6"/>
<polygon fill="#10e090" points="130.7,167.3 137,171.5 155.9,171.5 163.6,167.5 163.6,167 154.8,163.7 137.1,163.7"/>
<polygon fill="#80d820" points="131.9,167.4 137.2,170.9 155.8,170.9 162.4,167.5 162.4,167.2 154.7,164.3 137.2,164.3"/>
<polygon fill="#e8b810" points="133,167.4 137.4,170.3 155.6,170.3 161.2,167.4 161.2,167.4 154.6,164.9 137.4,164.9"/>
<polygon fill="#e86010" points="134.2,167.4 137.6,169.7 155.5,169.7 159.8,167.5 154.5,165.5 137.5,165.5"/>
<polygon fill="#e01010" points="135.3,167.5 137.7,169.1 155.3,169.1 158.3,167.6 154.4,166.1 137.7,166.1"/>
<polygon fill="#10e090" points="94,178 101,175 107,178 113,183 112,188 108,188 102,182 96,181"/>
<polygon fill="#30d020" points="107,182.4 111,184 111,187.2 108.4,186.8"/>
<polygon fill="#10c8e0" points="83,186 92,185 100,186 107,189 102,193 92,195 83,194"/>
<polygon fill="#10a0e0" points="86,189 98,189 100,191 92,193 86,192.4"/>
<polygon fill="#10e090" points="152.4,185.3 159.6,192.3 166.2,195.6 172.1,190.3 158.4,180.8"/>
<polygon fill="#80d820" points="153.3,185.3 160,191.8 166.1,194.8 171.1,190.3 158.4,181.5"/>
<polygon fill="#e8b810" points="154.2,185.4 160.3,191.3 166,194.1 170.2,190.4 158.4,182.3"/>
<polygon fill="#e86010" points="155.2,185.4 160.7,190.8 165.9,193.4 169.2,190.5 158.4,183"/>
<polygon fill="#e01010" points="156.1,185.5 161,190.3 165.8,192.7 168.2,190.5 158.4,183.8"/>
<polygon fill="#10c8e0" points="170,185 173,184 176,189 173,192 171,190"/>
<polygon fill="#10c8e0" points="206,166 212,168 226,165 238,164 246,168 260,168 268,171 274,174 270,180 264,178 260,182 250,180 246,184 240,176 230,176 214,176 206,171"/>
<polygon fill="#10e090" points="187.6,153.9 188.5,158.7 200,160.7 207.9,158.8 219.7,162.7 228.2,164.6 236.2,160.8 246,162.7 253.7,161.7 259.5,165.6 267.6,167.6 276.2,170.7 281.8,166.6 280.8,160.7 274.1,155.1 260.2,153.7 242.7,151.3 230.5,146.8 223.9,143.5 219.6,143.5 197.9,144.3"/>
<polygon fill="#80d820" points="188.2,154.2 189,158.2 200,160.1 208,158.1 219.8,162.1 228.1,163.9 236.1,160.1 246,162.1 253.8,161.1 259.7,165 267.8,167.1 276.1,170 281.2,166.3 280.2,161 273.9,155.7 260.1,154.3 242.6,151.9 230.3,147.4 223.8,144.1 219.6,144.1 198.1,144.9"/>
<polygon fill="#e8b810" points="188.9,154.4 189.5,157.7 200,159.5 208,157.5 220,161.5 228,163.3 236,159.5 246,161.5 254,160.5 260,164.5 268,166.5 276,169.3 280.5,166 279.7,161.3 273.6,156.3 260,154.9 242.4,152.5 230,147.9 223.6,144.7 219.6,144.7 198.4,145.5"/>
<polygon fill="#e86010" points="189.5,154.6 190,157.2 200,158.9 208,156.9 220.1,160.9 227.9,162.7 235.9,158.9 246,160.9 254.1,159.9 260.2,163.9 268.1,165.9 275.9,168.6 279.9,165.8 279.1,161.7 273.4,156.9 259.9,155.5 242.3,153.1 229.8,148.5 223.5,145.3 219.6,145.3 198.6,146.1"/>
<polygon fill="#e01010" points="190.2,154.8 190.5,156.6 200,158.3 208,156.3 220.3,160.3 227.9,162 235.9,158.2 246,160.3 254.3,159.3 260.5,163.4 268.3,165.3 275.8,168 279.2,165.5 278.6,162 273.2,157.5 259.9,156.1 242.1,153.7 229.6,149 223.3,145.9 219.6,145.9 198.9,146.7"/>
<polygon fill="#10a0e0" points="242.4,144 247.6,140 256.4,140 259.6,144 254.4,148.4 246.6,148.4"/>
<polygon fill="#3020e0" points="244,144 248.4,141.2 255.6,141.2 258,144 253.6,147.2 247.4,147.2"/>
<polygon fill="#6806e0" points="246.4,144 249.6,142.4 254.4,142.4 256,144.4 252.4,146.4 248.4,146.4"/>
<polygon fill="#10e090" points="227.8,143.9 233.9,148.8 241,143.9 234,139.6"/>
<polygon fill="#80d820" points="228.8,144 234,148.1 239.9,144 234,140.4"/>
<polygon fill="#e8b810" points="229.8,144 234,147.3 238.8,144 234,141.1"/>
<polygon fill="#e86010" points="230.8,144 234,146.6 237.7,144 234,141.8"/>
<polygon fill="#e01010" points="231.8,144.1 234,145.8 236.6,144.1 234,142.5"/>
<polygon fill="#10a0e0" points="211.6,163.2 217,159.6 222.4,163 218.4,167.4 213.6,166.4"/>
<polygon fill="#4a10e0" points="213.6,163.4 217.2,161.2 220.4,163.2 218,166 214.4,165.4"/>
<polygon fill="#10e090" points="281.6,172 287,167.6 297,170 302,175.6 304,179.6 310,182 320,187 325,187.2 329.6,181.6 336,186 332.4,192 324,196.4 314,193 302,187 292,182 288,180.4 283,177.6"/>
<polygon fill="#10e090" points="282.1,172.8 283.5,177.5 288.8,180.3 296,180.7 301.4,176.1 296.3,170.2 287,168.2"/>
<polygon fill="#80d820" points="282.8,173 284,177.1 289,179.7 295.8,180.1 300.6,176.1 296,170.8 287.2,168.8"/>
<polygon fill="#e8b810" points="283.5,173.2 284.5,176.7 289.2,179.1 295.6,179.5 299.7,176 295.7,171.3 287.4,169.5"/>
<polygon fill="#e86010" points="284.2,173.4 285,176.3 289.3,178.5 295.4,178.9 298.9,175.9 295.3,171.9 287.6,170.1"/>
<polygon fill="#e01010" points="284.8,173.5 285.5,175.8 289.5,177.9 295.2,178.3 298,175.9 295,172.4 287.7,170.8"/>
<polygon fill="#10e090" points="323.9,186 329.9,190.8 336.9,186 329.9,181.2"/>
<polygon fill="#80d820" points="324.9,186 330,190.1 335.8,186 330,181.9"/>
<polygon fill="#e8b810" points="325.8,186 330,189.3 334.8,186 330,182.7"/>
<polygon fill="#e86010" points="326.8,186 330,188.6 333.7,186 330,183.4"/>
<polygon fill="#e01010" points="327.8,186 330,187.8 332.7,186 330,184.2"/>
<polygon fill="#10e090" points="310.4,165.7 312.5,170.7 318.7,170.7 322.3,165.6 315.9,162.1"/>
<polygon fill="#80d820" points="311.1,165.9 312.9,170.1 318.4,170.1 321.4,165.8 316,162.8"/>
<polygon fill="#e8b810" points="311.9,166.2 313.3,169.5 318.1,169.5 320.5,166 316,163.5"/>
<polygon fill="#e86010" points="312.6,166.4 313.7,168.9 317.7,168.9 319.7,166.2 316,164.2"/>
<polygon fill="#e01010" points="313.4,166.6 314.1,168.3 317.4,168.3 318.8,166.4 316,164.9"/>
<polygon fill="#10c8e0" points="305,172 309,167 311.4,172"/>
<polygon fill="#10e090" points="284,140 294,138.4 300,141.2 302.4,145 295.6,147.6 290.4,144 286,142"/>
<polygon fill="#10e090" points="288.9,143.2 295.2,147.6 301.5,143.2 295.2,138.8"/>
<polygon fill="#80d820" points="290,143.2 295.2,146.9 300.4,143.2 295.2,139.5"/>
<polygon fill="#e8b810" points="291,143.2 295.2,146.1 299.4,143.2 295.2,140.3"/>
<polygon fill="#e86010" points="292.1,143.2 295.2,145.4 298.3,143.2 295.2,141"/>
<polygon fill="#e01010" points="293.1,143.2 295.2,144.7 297.3,143.2 295.2,141.7"/>
<polygon fill="#10e090" points="309.6,144 316,139.4 322.8,144 316,148.2"/>
<polygon fill="#10e090" points="309.8,144 316,148.6 322.7,144 316,139.4"/>
<polygon fill="#80d820" points="310.8,144 316,147.9 321.6,144 316,140.1"/>
<polygon fill="#e8b810" points="311.8,144 316,147.1 320.6,144 316,140.9"/>
<polygon fill="#e86010" points="312.8,144 316,146.4 319.5,144 316,141.6"/>
<polygon fill="#e01010" points="313.8,144 316,145.6 318.4,144 316,142.4"/>
<polygon fill="#10e090" points="327,139.2 360,139.4 360,140.4 327,140.4"/>
<polygon fill="#10c8e0" points="225,193 232,192 242,194 238,197 228,196"/>
<polygon fill="#10c8e0" points="244,198 252,196 268,197 268,201 248,200.4"/>
<polygon fill="#10c8e0" points="199.6,181.2 204.4,180.4 205,182.8 200.4,183.6"/>
<polygon fill="#10c8e0" points="345,177 352,174 366,171 376,164 388,153 398,149 406,154 418,158 430,162 431,164 418,167 406,166 396,170 380,171 370,173 362,177 354,179.6 347,179.6"/>
<polygon fill="#10a0e0" points="370,168 378,161 388,155 397,153 401,158 398,164 390,167 378,169"/>
<polygon fill="#1040e0" points="373,167 380,161 388.4,158 394,160 393.6,164.4 387,167 378,168.4"/>
<polygon fill="#4a10e0" points="377,166 382.4,161.6 388.4,160.8 391,163.6 386,166.4 379,167.4"/>
<polygon fill="#10e090" points="366.2,176 372.8,180.5 386.1,181.1 391.4,176.4 386,173.3 372.9,172.9 366.2,175.9"/>
<polygon fill="#80d820" points="367.4,176.1 373,179.9 385.9,180.5 390.4,176.5 385.8,173.9 373.1,173.5 367.4,176.1"/>
<polygon fill="#e8b810" points="368.6,176.2 373.2,179.3 385.6,179.9 389.4,176.6 385.6,174.5 373.2,174.1 368.6,176.2"/>
<polygon fill="#e86010" points="369.8,176.3 373.4,178.7 385.4,179.3 388.3,176.7 385.5,175.1 373.3,174.7"/>
<polygon fill="#e01010" points="371,176.4 373.6,178.1 385.2,178.7 387.3,176.8 385.3,175.7 373.4,175.3"/>
<polygon fill="#10c8e0" points="342,186 344,184.4 346,187 343.6,188.6"/>
<polygon fill="#10e090" points="422.4,148 426,147 430,143.6 463,143.6 468,148 466,158 458,157 450,160 446,158 434,157.6 428,155 424,153"/>
<polygon fill="#10e090" points="427.4,148.9 428.5,153.5 434.1,156.5 457.8,155.5 462.2,154.6 467.1,147.9 462,144.5 431,144.5"/>
<polygon fill="#80d820" points="428,149 429,153.1 434.2,155.9 457.7,154.9 461.8,154 466.2,148 461.8,145.1 431.3,145.1"/>
<polygon fill="#e8b810" points="428.7,149.2 429.5,152.7 434.4,155.3 457.6,154.3 461.5,153.5 465.3,148.2 461.6,145.7 431.6,145.7"/>
<polygon fill="#e86010" points="429.3,149.3 430,152.3 434.5,154.7 457.5,153.7 461.1,153 464.5,148.3 461.4,146.3 431.8,146.3"/>
<polygon fill="#e01010" points="430,149.5 430.6,151.9 434.7,154.1 457.5,153.1 460.8,152.4 463.6,148.5 461.3,146.9 432.1,146.9"/>
<polygon fill="#10e090" points="405,143.6 412.4,143.6 412.4,144.8 405,144.8"/>
<polygon fill="#10c8e0" points="442,162 458,160 470,163 462,166 448,165.6"/>
<polygon fill="#10c8e0" points="464,198 470,194 482,192 490,190 496,190.4 502,191.6 510,192.4 515,194 511,197 500,198.4 490,198 478,200.4 468,201"/>
<polygon fill="#10c8e0" points="436,135 458,134 480,134 504,133.6 540,135 580,136 616,139 620,142 628,148 632.4,153.6 627.6,156.6 620,156 608,158 600,161 608,168 618,176 622,182 612,181 592,175 584,172 568,168 540,173 530,168 520,167 506,165 500,168 492,170 480,168 472,166 471,158 472,150 480,147 480,141 460,138 442,136.4"/>
<polygon fill="#10a0e0" points="491,139.6 500,136.4 531,135.2 542,139 560,143.6 551,150.4 545,155.6 537.4,160 527.4,162.4 515,164.2 505,161 500,152.4 491,148"/>
<polygon fill="#1070e0" points="497,141 504,137.6 530,136.8 540,140.4 554,144 548,149.6 540,155 530,158 520,161 510,161.6 505,156 502,148"/>
<polygon fill="#10a0e0" points="477,152 480,150 486,151 488,158 484,164 480,164 477.6,158"/>
<polygon fill="#3020e0" points="500,142 506,138 514,140 510,146 512,154 508,158 504,150"/>
<polygon fill="#1040e0" points="530,143 547,142.4 550.4,148 540,154.4 529,152.4"/>
<polygon fill="#3020e0" points="532.4,145.6 544,144.8 546,148 539,151.6 532.4,150.4"/>
<polygon fill="#4a10e0" points="503.6,142 507,139.6 510.4,141.6 509,147 505.6,148"/>
<polygon fill="#10e090" points="508.9,145 514,148.3 530.7,147.9 536.4,145.1 530.9,140.5 513.9,140.5"/>
<polygon fill="#80d820" points="509.8,144.9 514.2,147.7 530.6,147.3 535.3,144.9 530.7,141.1 514.1,141.1"/>
<polygon fill="#e8b810" points="510.8,144.8 514.4,147.1 530.4,146.7 534.2,144.8 530.4,141.7 514.4,141.7"/>
<polygon fill="#e86010" points="511.8,144.7 514.5,146.5 530.3,146.1 533.1,144.7 530.2,142.3 514.6,142.3"/>
<polygon fill="#e01010" points="512.8,144.7 514.7,145.9 530.1,145.5 532,144.6 530,142.9 514.8,142.9"/>
<polygon fill="#10e090" points="508.8,158.7 512.9,161.9 522.9,162.7 529.5,158.4 525.1,155.3 515.1,154.5"/>
<polygon fill="#80d820" points="509.8,158.8 513.1,161.3 522.8,162.1 528.5,158.4 524.8,155.9 515.2,155.1"/>
<polygon fill="#e8b810" points="510.8,158.8 513.4,160.7 522.6,161.5 527.4,158.4 524.6,156.5 515.4,155.7"/>
<polygon fill="#e86010" points="511.9,158.8 513.6,160.1 522.5,160.9 526.3,158.4 524.4,157.1 515.5,156.3"/>
<polygon fill="#e01010" points="512.9,158.8 513.8,159.5 522.3,160.3 525.2,158.4 524.2,157.7 515.7,156.9"/>
<polygon fill="#10e090" points="487,144 494,141 498,145 495,151 490,148"/>
<polygon fill="#80d820" points="490,144.6 493.6,143 495.6,145.6 493.6,148.6 491,147"/>
<polygon fill="#10e090" points="545.5,153.6 553.8,160.4 560.3,161.5 593.9,161.5 611.2,154.3 611.2,154.2 598,145.1 556.2,145.5"/>
<polygon fill="#80d820" points="546.5,153.6 554.1,159.9 560.3,160.9 593.7,160.9 610,154.2 610,154.1 597.8,145.7 556.4,146.1"/>
<polygon fill="#e8b810" points="547.4,153.6 554.4,159.3 560.4,160.3 593.6,160.3 608.8,154 608.8,154 597.6,146.3 556.6,146.7"/>
<polygon fill="#e86010" points="548.4,153.6 554.6,158.7 560.4,159.7 593.5,159.7 607.6,153.9 597.4,146.9 556.8,147.3"/>
<polygon fill="#e01010" points="549.4,153.6 554.9,158.2 560.5,159.1 593.4,159.1 606.3,153.8 597.3,147.5 557,147.9"/>
<polygon fill="#10c8e0" points="480,190 492,188 516,190 525,193 520,198 500,199 486,198 480,201"/>
<polygon fill="#10c8e0" points="565,195 571,190.4 576,195 571,199"/>
<polygon fill="#10c8e0" points="574,192 584,188 591,194 584,198 578,197"/>
<polygon fill="#10c8e0" points="540.4,199 542.4,197.6 544.4,199 542.4,200.4"/>
<polygon fill="#10c8e0" points="547.4,204 549.4,202.6 551.4,204 549.4,205.4"/>
<polygon fill="#10c8e0" points="602.4,204 604.4,202.6 606.4,204 604.4,205.4"/>
<polygon fill="#10c8e0" points="627,195 629,193.6 631,195 629,196.4"/>
<polygon fill="#10c8e0" points="630.4,186 632.4,184.6 634.4,186 632.4,187.4"/>
<polygon fill="#10e090" points="646.4,154 652.4,152.4 658,155 660,160 652.4,164 648,160"/>
<polygon fill="#10c8e0" points="662,154 668,150.4 680,149.6 690,152 696,157 704,160 720,159.6 740,159 741.6,160 741.6,167 728,167 712,167 704,165 694,164 680,163 668,160 663,158"/>
<polygon fill="#10a0e0" points="666,156 672,153 684,153 691,157 688,161 676,160"/>
<polygon fill="#3020e0" points="671,156 680,154.8 688.4,158 680,159.8"/>
<polygon fill="#10c8e0" points="696,176 704,173 716,170 730,169 741.6,168 741.6,173 730,175 712,177 702,178"/>
<polygon fill="#10c8e0" points="682,205 690,197 696,196 712,188 724,185 741.6,184 741.6,194 728,194 720,196 712,201 704,208 682,208"/>
<polygon fill="#10a0e0" points="720,188 741.6,187 741.6,192 728,192"/>
<polygon fill="#10c8e0" points="600,166 608,167 616,175 622,181 614,182 600,177"/>
<polygon fill="#10c8e0" points="631,185 634,185 634,186.4 631,186.4"/>
<polygon fill="#10c8e0" points="625,194 633,194 633,196 625,196"/>
<polygon fill="#10c8e0" points="603,203.6 606,203.6 606,205.2 603,205.2"/>
<polygon fill="#10c8e0" points="83,398 104,397.4 120,395 138,395 160,398 180,400 204,403 224,405 240,406 250,406.6 270,406 284,406 286,404.6 294,406 288,408 294,413 292,416 284,418 278,421 273,425 270,427.4 240,428 226,428 220,430.6 212,429.4 209.6,427.4 207,424.6 208,420.2 205.6,419.4 204,424 202,428 199.6,430.2 192,432 176,431.4 160,432.6 148,434.2 140,435 120,436.6 100,437.4 83,436.6"/>
<polygon fill="#10b4e0" points="83,399 104,398.6 120,396.6 138,396.6 160,399.4 180,401.4 204,404.4 224,406.6 240,407.4 240,415 220,415 200,413 180,410 160,409 146,411 130,407 110,404 92,405 83,406"/>
<polygon fill="#10a0e0" points="134,401 148,399.4 164,402 180,405 192,408 204,410 196,412 180,410 164,407 148,404"/>
<polygon fill="#1070e0" points="160,404.6 170,404.2 180,406.2 174,407.4 164,406.6"/>
<polygon fill="#1070e0" points="182,409 194,408.6 202,410.6 192,411.8 184,411"/>
<polygon fill="#10b4e0" points="83,415 110,415.4 123,418 135,425 144,432 130,435 120,436.6 100,437.4 83,436.6"/>
<polygon fill="#10a0e0" points="83,422 105,423 120,430 130,434.2 120,436.6 100,437.4 83,436.6"/>
<polygon fill="#1070e0" points="83,422.6 91,422.6 99,427.4 103,432.6 97,436 83,436.4"/>
<polygon fill="#3020e0" points="83,424 90,424.2 96,428.6 99,432.6 94,435.4 83,436"/>
<polygon fill="#7a00e0" points="83,425.4 89.6,426 95.2,432 90,435 83,435.4"/>
<polygon fill="#10a0e0" points="143,433 151,427.4 159.6,433 151,438.2"/>
<polygon fill="#7a00e0" points="146,433 151,429.4 157,433 151,437"/>
<polygon fill="#10a0e0" points="164,425 176,421 194,421 204,425 200,430 192,433 176,433 168,430.6"/>
<polygon fill="#1040e0" points="169,427.4 177,422.6 193,422.6 200,427.4 194,432.6 177,432.6"/>
<polygon fill="#7a00e0" points="173,428 178,424.2 192,424.2 197.6,428 193,431.8 178,431.8"/>
<polygon fill="#1070e0" points="206,424 213.6,418.4 221,424 213.6,429.4"/>
<polygon fill="#7a00e0" points="208.2,424 213.6,420.2 218.8,424 213.6,427.8"/>
<polygon fill="#1070e0" points="226,417 230,413 242,412 260,410 280,409 288,412 292,415 282,419 276,422 271,426 242,427.4 234,425 228,425"/>
<polygon fill="#7a00e0" points="235,423 241,419.4 260,419.4 273,415 278,418 273,423 269,426.6 242,427"/>
<polygon fill="#7a00e0" points="282.4,414.6 288,410.6 294,414.6 288.4,418.6"/>
<polygon fill="#7a00e0" points="230,424 232.4,422 234.8,424.2 232.4,426.2 230,426.2"/>
<polygon fill="#10c8e0" points="311,409 316,402 326,399 342,397 358,397.4 374,398.6 390,398 414,397.4 430,399 440,400.6 468,400 492,400 520,402 530,403.4 534,405.4 528,408 520,410 500,410.6 508,413 520,417 528,419.4 532,420.2 540,422 532,423 520,420.6 508,417 502,419 494,423 484,424 476,422 468,423 460,428 446,428 440,424 428,425 412,424 392,426 386,431 380,432 374,433 358,437 350,440 342,443 336,442 333,438 330,434 318,433 302,432 299,429 296,423 298,418 306,413"/>
<polygon fill="#e6e6e6" points="323,411 328,409.4 350,409 364,410.6 368,414 364,417 350,418 334,417 326,415"/>
<polygon fill="#10a0e0" points="338,400 350,398.6 366,400 374,402 390,401 402,402.6 392,405 374,406 362,404 350,403 340,403"/>
<polygon fill="#10a0e0" points="314,413 324,417 338,420 354,422 370,425 382,426 378,431.4 358,436.6 350,439 342,433 322,425 310,417"/>
<polygon fill="#1040e0" points="298,417 306,413 314,415 322,419 334,422 350,424 358,428 362,433 350,439 342,442.6 336,441.4 333,437.4 330,434 318,433 302,432 299,429 296.4,423"/>
<polygon fill="#7a00e0" points="299,418 306,416 314,419 324,423 338,426 350,428 356,432 348,437.4 342,440 335,439.4 333,435 331,432 318,431.4 303,430 300,425"/>
<polygon fill="#10b4e0" points="380,401 396,401.4 406,405 396,408.6 380,408.6"/>
<polygon fill="#10a0e0" points="380,403 392,402.6 402,405 392,407.4 380,407"/>
<polygon fill="#10b4e0" points="452,405 480,403.4 504,405 480,407.4 460,407"/>
<polygon fill="#10a0e0" points="416,421.4 440,418 470,415.4 484,415 492,412 502,415 508,417 502,419 494,423 484,424 476,422 468,423 460,428 446,428 440,424 428,425"/>
<polygon fill="#1040e0" points="438,422 444,418 460,417 467,422 461,427.6 446,427.6"/>
<polygon fill="#6806e0" points="442,423 446,420 459,420 463,423 460,426.6 447,426.6"/>
<polygon fill="#1040e0" points="484,418 492,413 500,417 498,422 492,424 486,422"/>
<polygon fill="#6806e0" points="489,418 493.6,414.6 498,418 494,422"/>
<polygon fill="#10b4e0" points="380,398.6 404,398 420,399.6 440,401.2 468,400.6 492,400.6 520,402.6 529,404 520,406.6 500,408 460,408.6 430,408.6 404,410 380,410"/>
<polygon fill="#10a0e0" points="380,403 392,402.6 402,405 392,407.4 380,407"/>
<polygon fill="#10a0e0" points="456,405 480,404 500,405 480,406.6 460,406.4"/>
<polygon fill="#10c8e0" points="522,418 530,413 538,411 546,411 556,414 562,417 560,422 552,424.4 538,424 530,422"/>
<polygon fill="#1040e0" points="532,418 539,414 550,414 560,418 556,423 540,423"/>
<polygon fill="#6806e0" points="535,419 540,416 550,416 558,419 554,422.6 541,422.6"/>
<polygon fill="#10c8e0" points="530,404 533,405 530,406.6"/>
<polygon fill="#10e090" points="554.4,407 558,404 574,400.6 590,399.4 597,400.6 586,402.6 574,405 567,409 565,413 568,415 562,417 557,414 554.4,410"/>
<polygon fill="#80d820" points="562,414 567,413.4 567.6,416.2 563,416.6"/>
<polygon fill="#10c8e0" points="575.6,411 580,407 590,405 620,406 640,406.6 660,404 674,402 690,402 690,419 678,419.4 660,418.6 630,419.4 610,419 590,418.6 580,418 577,415"/>
<polygon fill="#1070e0" points="577.6,412 582,408 594,406.6 620,407.4 642,407.4 662,405.4 678,403.4 690,403.4 690,418.6 678,419 590,418.2 580,417"/>
<polygon fill="#3020e0" points="579,412.6 583.6,409.4 596,408.2 620,408.8 642,408.8 661,407 674,405.4 690,405.4 690,418.6 678,419 590,418.2 581,417"/>
<polygon fill="#6806e0" points="580,413.4 585,411 598,410.2 620,410.6 642,410.6 660,409.2 670,408.2 682,408.6 690,409 690,418.2 678,418.6 590,417.8 582,416.6"/>
<polygon fill="#7a00e0" points="582.4,414.6 587,412.6 598,411.6 620,412 642,412 660,410.8 670,409.8 682,410.2 690,410.6 690,418.2 678,418.6 590,417.8 584,416.6"/>
<polygon fill="#10c8e0" points="688,401.8 700,402 720,401.4 728,399 741.6,398 741.6,438.6 730,438 720,437 717,436 720,432 724,427.6 716,426 708,424 700,422.6 688,421"/>
<polygon fill="#10b4e0" points="718,409 741.6,407 741.6,428.6 730,427.4 724,427.6 716,426 714,421 718,415"/>
<polygon fill="#1070e0" points="688,403.2 700,403.4 712,404 720,403 728,401 741.6,400.2 741.6,410 730,410.6 722,412 717,417 715,425.6 708,424 700,422.6 688,421"/>
<polygon fill="#1040e0" points="688,404.6 704,405.4 720,404.6 730,403.4 741.6,402.6 741.6,407.4 730,408 720,409 712,412 712,415 709,422.6 700,422.6 688,421"/>
<polygon fill="#4a10e0" points="688,405.8 700,407 707,410 706,415 700,417 688,418"/>
<polygon fill="#7a00e0" points="688,410.2 686.4,413 682,415.4 688,417"/>
<polygon fill="#7a00e0" points="691,418 698,415 706,417 708,421 702,423 693,421"/>
<polygon fill="#1040e0" points="715,436 720,429.4 730,426.4 741.6,427 741.6,437.8 728,437"/>
<polygon fill="#7a00e0" points="718,435 722,430.2 730,428.2 741.6,429.2 741.6,437.4 728,436.6"/>
<polygon fill="#10c8e0" points="198.2,211 205.1,206.9 214.8,207.7 216.1,212.4 212,215.1 201,214.3"/>
<polygon fill="#10c8e0" points="248.3,211 251.9,207.7 258.8,211 262.9,215.1 261.5,219.8 253.2,220.6 249.1,216.5"/>
<polygon fill="#10c8e0" points="245,198.3 269.8,198.3 269.8,202.2 247.8,202.2"/>
<polygon fill="#10e090" points="215.3,250.1 220.2,246.8 224.4,249.5 221.6,255 217,254.4"/>
<polygon fill="#30d020" points="217.5,250.6 220.2,248.4 222.7,250.3 220.8,253.3"/>
<polygon fill="#10c8e0" points="237.3,263.8 242.2,262.1 243.9,265.4 239.5,266.8"/>
<polygon fill="#10c8e0" points="191.1,217.9 192.2,216.8 193.3,217.9 192.2,219"/>
<polygon fill="#10e090" points="296.9,304.5 302.4,300.4 313.4,304.5 306.5,308.6 301,308.6"/>
<polygon fill="#30d020" points="299.6,304.5 302.9,302 309.2,304.5 305.1,307.2 301.6,307.2"/>
<polygon fill="#c8d010" points="302.1,304.5 303.8,303.4 305.4,304.5 303.8,305.6"/>
<polygon fill="#10e090" points="391.2,272.9 398.6,270.1 405.5,270.1 412.4,275.6 419.2,274.2 427.5,270.1 433,268.8 419.2,264.6 404.1,264.6 404.1,262.7 422,262.7 433,266 444,265.4 452.2,266 455,270.1 452.2,277 448.1,282.5 444,283.9 441.2,278.4 439.9,272.9 435.8,270.9 427.5,275.6 422,278.4 427.5,282.5 424.8,284.7 417.9,281.1 411,281.1 402.8,281.1 395.9,278.4"/>
<polygon fill="#30d020" points="393.1,273.7 399.4,271.5 404.9,271.5 411,276.4 405.5,279.8 398.6,278.4"/>
<polygon fill="#30d020" points="442.6,267.4 450.9,267.4 452.2,272.9 448.1,281.1 444,281.9 442.6,274.2 438.5,270.1"/>
<polygon fill="#c8d010" points="403.6,277 404.9,275.9 406.3,277 404.9,278.1"/>
<polygon fill="#10e090" points="471,272.9 474.2,270.1 477.6,272.9 474.2,275.6"/>
<polygon fill="#10e090" points="470.1,286.6 479.8,279.8 484.7,281.1 474.8,288.6"/>
<polygon fill="#10e090" points="458.6,281.7 460,280.3 461.3,281.7 460,283.1"/>
<polygon fill="#10e090" points="437.7,332.6 439.9,330.4 442.1,332.6 439.9,334.8"/>
<polygon fill="#10c8e0" points="466,198.9 479.8,198.9 479.8,201.4 466,201.4"/>
<polygon fill="#10c8e0" points="493.8,341.6 494.9,340.8 496,341.6 494.9,342.5"/>
<polygon fill="#10c8e0" points="452.8,355.6 454.5,354.8 456.1,355.6 454.5,356.5"/>
<polygon fill="#10c8e0" points="301.6,356.2 302.4,355.4 303.2,356.2 302.4,357"/>
<polygon fill="#10c8e0" points="300.7,286.6 301.6,285.8 302.4,286.6 301.6,287.4"/>
<polygon fill="#10e090" points="553.7,230.7 561.3,233.1 570.5,230.7 573,239.9 569,241.4 561.3,236.8 555.2,233.1"/>
<polygon fill="#10c8e0" points="541.4,221.5 549.1,219.9 552.1,222.1 546,225.1 541.4,223.9"/>
<polygon fill="#10c8e0" points="553.4,249.1 555.2,247.2 557,249.1 555.2,250.9"/>
<polygon fill="#10e090" points="561.9,257.3 563.5,255.8 565,257.3 563.5,258.9"/>
<polygon fill="#10c8e0" points="547.8,262.9 549.1,261.6 550.3,262.9 549.1,264.1"/>
<polygon fill="#10c8e0" points="589.5,254.6 590.5,253.7 591.4,254.6 590.5,255.5"/>
<polygon fill="#10e090" points="615,222.1 619,219.9 621.1,222.1 618.1,224.5"/>
<polygon fill="#10e090" points="623.9,230.7 625.1,229.4 626.3,230.7 625.1,231.9"/>
<polygon fill="#10c8e0" points="631.9,212.9 638,211.7 642.6,213.5 636.5,214.7"/>
<polygon fill="#10c8e0" points="646.6,212.9 651.8,209.2 656.4,212.3 651.8,216.9"/>
<polygon fill="#10a0e0" points="657.9,213.8 665.6,208 673.2,213.8 668.6,221.5 661.9,220.2"/>
<polygon fill="#3020e0" points="660.4,213.8 665.6,210.1 670.5,214.1 667.4,219 663.1,218.4"/>
<polygon fill="#30d020" points="661.9,307.9 666.2,305.2 670.5,307.9 667.1,311.6"/>
<polygon fill="#10c8e0" points="630,337.7 632.2,334.3 634.3,337.7 632.2,341.1"/>
<polygon fill="#10c8e0" points="676,333.1 679.1,330.9 682.1,333.1 679.1,335.2"/>
<polygon fill="#10c8e0" points="670.2,326 672,323.3 673.9,326 672,328.8"/>
<polygon fill="#10c8e0" points="602.4,203.7 604.3,202.5 606.1,203.7 604.3,204.9"/>
<polygon fill="#10c8e0" points="568.7,207.7 570.5,206.7 572.4,207.7 570.5,208.6"/>
<polygon fill="#10c8e0" points="547.8,203.7 549.1,202.8 550.3,203.7 549.1,204.6"/>
<polygon fill="#10c8e0" points="555.8,218.4 556.7,217.5 557.6,218.4 556.7,219.3"/>
<polygon fill="#10c8e0" points="681.3,204 686.6,199.3 714,199.3 710.6,205.3 709.3,212 704,217.3 696,222.7 688,226.4 680,226.4 674.9,222.9 674,219.3 680,214.7 684,210.7 682,206.7"/>
<polygon fill="#10b4e0" points="684.6,210 693.3,208 702.6,205.3 702.9,210.7 697.3,216 690.6,220 688,224.7 680.6,225.1 676.2,222.4 676,219.7 681.3,216"/>
<polygon fill="#10a0e0" points="677.3,220.3 685.3,217.3 689.6,218.7 688.2,222.9 681.6,224.5 678,222.9"/>
<polygon fill="#1070e0" points="679.7,220.7 684.6,219.7 685.6,222 681.6,223.3"/>
</g>
<use href="#coast" stroke="#000" stroke-width="1.2"/>
<path id="isl" fill="#000" stroke="none" shape-rendering="crispEdges" d="M128 260h1v1h-1z M126 258h1v1h-1z M123 256h1v1h-1z M121 255h1v1h-1z M246 297h1v1h-1z M139 328h1v1h-1z M738 328h1v1h-1z M741 326h1v1h-1z M717 332h1v1h-1z M715 335h1v1h-1z M713 333h1v1h-1z M705 313h1v1h-1z M703 311h1v1h-1z M700 309h1v1h-1z M708 315h1v1h-1z M718 324h1v1h-1z M720 328h1v1h-1z M98 321h1v1h-1z M92 334h1v1h-1z M518 333h1v1h-1z M514 334h1v1h-1z M540 386h1v1h-1z M541 386h1v1h-1z M345 395h1v1h-1z M346 395h1v1h-1z M364 402h1v1h-1z M394 369h1v1h-1z M386 310h1v1h-1z M402 325h1v1h-1z M366 226h1v1h-1z M361 225h1v1h-1z M382 244h1v1h-1z M384 244h1v1h-1z M381 236h1v1h-1z M369 266h1v1h-1z M369 268h1v1h-1z M547 288h1v1h-1z M546 296h1v1h-1z M582 274h1v1h-1z M583 281h1v1h-1z M545 309h1v1h-1z M514 304h1v1h-1z M492 317h1v1h-1z M495 319h1v1h-1z M677 271h1v1h-1z M659 282h1v1h-1z M702 283h1v1h-1z M725 283h1v1h-1z M729 293h1v1h-1z M88 244h1v1h-1z M101 322h1v1h-1z M156 312h1v1h-1z M212 345h1v1h-1z M266 357h1v1h-1z M294 237h1v1h-1z M301 269h1v1h-1z M300 267h1v1h-1z M300 266h1v1h-1z M301 272h1v1h-1z M304 272h1v1h-1z M300 276h1v1h-1z M271 250h1v1h-1z M270 247h1v1h-1z M273 252h1v1h-1z M278 257h1v1h-1z M101 191h1v1h-1z M108 197h1v1h-1z M105 198h1v1h-1z M98 200h1v1h-1z M90 201h1v1h-1z M738 201h1v1h-1z M729 199h1v1h-1z M716 195h1v1h-1z M109 186h1v1h-1z M692 208h1v1h-1z M689 211h1v1h-1z M685 212h1v1h-1z M682 213h1v1h-1z M647 247h1v1h-1z M649 244h1v1h-1z M639 251h1v1h-1z M673 246h1v1h-1z M400 182h1v1h-1z M410 185h1v1h-1z M407 188h1v1h-1z M401 190h1v1h-1z M447 160h1v1h-1z M397 166h1v1h-1z M446 190h1v1h-1z M443 192h1v1h-1z M454 189h1v1h-1z M432 194h1v1h-1z M434 194h1v1h-1z M418 223h1v1h-1z M415 224h1v1h-1z M458 228h1v1h-1z M464 229h1v1h-1z M460 224h1v1h-1z M554 365h1v1h-1z M507 381h1v1h-1z M482 382h1v1h-1z M703 396h1v1h-1z M722 392h1v1h-1z M716 388h1v1h-1z M90 376h1v1h-1z M720 349h1v1h-1z M703 353h1v1h-1z M590 318h1v1h-1z M606 315h1v1h-1z M303 407h1v1h-1z M329 407h1v1h-1z M312 408h1v1h-1z M419 395h1v1h-1z M245 297h1v1h-1z M246 296h1v1h-1z M245 296h1v1h-1z M115 284h1v1h-1z M124 292h1v1h-1z M95 301h1v1h-1z M99 302h1v1h-1z M97 312h1v1h-1z M117 314h1v1h-1z M123 312h1v1h-1z M156 311h1v1h-1z M158 313h1v1h-1z M96 320h1v1h-1z M101 331h1v1h-1z M91 334h1v1h-1z M135 326h1v1h-1z M139 328h1v1h-1z M145 322h1v1h-1z M146 328h1v1h-1z M154 324h1v1h-1z M147 332h1v1h-1z M155 334h1v1h-1z M162 335h1v1h-1z M174 342h1v1h-1z M183 341h1v1h-1z M212 345h1v1h-1z M204 263h1v1h-1z M203 230h1v1h-1z M207 220h1v1h-1z M235 234h1v1h-1z M294 236h1v1h-1z M283 274h1v1h-1z M285 325h1v1h-1z M118 255h1v1h-1z M121 256h1v1h-1z M124 257h1v1h-1z M127 258h1v1h-1z M128 260h1v1h-1z M693 251h1v1h-1z M679 259h1v1h-1z M679 264h1v1h-1z M679 268h1v1h-1z M679 272h1v1h-1z M717 260h1v1h-1z M717 275h1v1h-1z M718 279h1v1h-1z M725 280h1v1h-1z M658 281h1v1h-1z M666 279h1v1h-1z M691 282h1v1h-1z M702 283h1v1h-1z M710 286h1v1h-1z M730 292h1v1h-1z M732 297h1v1h-1z M718 297h1v1h-1z M648 244h1v1h-1z M646 247h1v1h-1z M643 250h1v1h-1z M639 251h1v1h-1z M652 227h1v1h-1z M692 301h1v1h-1z M697 305h1v1h-1z M700 308h1v1h-1z M704 311h1v1h-1z M708 314h1v1h-1z M716 315h1v1h-1z M583 273h1v1h-1z M584 282h1v1h-1z M582 274h1v1h-1z"/>
</g>
<path d="M101.40 130.95v4.0 M101.40 460.40v-4.0 M119.69 130.95v4.0 M119.69 460.40v-4.0 M137.99 130.95v4.0 M137.99 460.40v-4.0 M156.28 130.95v4.0 M156.28 460.40v-4.0 M174.58 130.95v4.0 M174.58 460.40v-4.0 M192.88 130.95v8.0 M192.88 460.40v-8.0 M211.17 130.95v4.0 M211.17 460.40v-4.0 M229.47 130.95v4.0 M229.47 460.40v-4.0 M247.76 130.95v4.0 M247.76 460.40v-4.0 M266.06 130.95v4.0 M266.06 460.40v-4.0 M284.35 130.95v4.0 M284.35 460.40v-4.0 M302.65 130.95v8.0 M302.65 460.40v-8.0 M320.95 130.95v4.0 M320.95 460.40v-4.0 M339.24 130.95v4.0 M339.24 460.40v-4.0 M357.54 130.95v4.0 M357.54 460.40v-4.0 M375.83 130.95v4.0 M375.83 460.40v-4.0 M394.13 130.95v4.0 M394.13 460.40v-4.0 M412.42 130.95v8.0 M412.42 460.40v-8.0 M430.72 130.95v4.0 M430.72 460.40v-4.0 M449.02 130.95v4.0 M449.02 460.40v-4.0 M467.31 130.95v4.0 M467.31 460.40v-4.0 M485.61 130.95v4.0 M485.61 460.40v-4.0 M503.90 130.95v4.0 M503.90 460.40v-4.0 M522.20 130.95v8.0 M522.20 460.40v-8.0 M540.50 130.95v4.0 M540.50 460.40v-4.0 M558.79 130.95v4.0 M558.79 460.40v-4.0 M577.09 130.95v4.0 M577.09 460.40v-4.0 M595.38 130.95v4.0 M595.38 460.40v-4.0 M613.68 130.95v4.0 M613.68 460.40v-4.0 M631.98 130.95v8.0 M631.98 460.40v-8.0 M650.27 130.95v4.0 M650.27 460.40v-4.0 M668.57 130.95v4.0 M668.57 460.40v-4.0 M686.86 130.95v4.0 M686.86 460.40v-4.0 M705.16 130.95v4.0 M705.16 460.40v-4.0 M723.45 130.95v4.0 M723.45 460.40v-4.0 M83.10 442.10h8.0 M741.75 442.10h-8.0 M83.10 423.79h4.0 M741.75 423.79h-4.0 M83.10 405.49h4.0 M741.75 405.49h-4.0 M83.10 387.19h4.0 M741.75 387.19h-4.0 M83.10 368.89h8.0 M741.75 368.89h-8.0 M83.10 350.58h4.0 M741.75 350.58h-4.0 M83.10 332.28h4.0 M741.75 332.28h-4.0 M83.10 313.98h4.0 M741.75 313.98h-4.0 M83.10 295.67h8.0 M741.75 295.67h-8.0 M83.10 277.37h4.0 M741.75 277.37h-4.0 M83.10 259.07h4.0 M741.75 259.07h-4.0 M83.10 240.77h4.0 M741.75 240.77h-4.0 M83.10 222.46h8.0 M741.75 222.46h-8.0 M83.10 204.16h4.0 M741.75 204.16h-4.0 M83.10 185.86h4.0 M741.75 185.86h-4.0 M83.10 167.56h4.0 M741.75 167.56h-4.0 M83.10 149.25h8.0 M741.75 149.25h-8.0" stroke="#3c3c3c" stroke-width="1" fill="none"/>
<rect x="83.1" y="130.95" width="658.65" height="329.45" fill="none" stroke="#3c3c3c" stroke-width="1.1"/>
<g stroke="#000" stroke-width="0.38">
<text x="272.6" y="82" font-size="31.6" textLength="281" stroke-width="0.55">Surface Albedo (in %)</text>
<text x="284" y="108" font-size="15" textLength="197">rmsd= 3.70448 diff= -0.383209</text>
<text x="320.6" y="120.5" font-size="16.6" textLength="180">1484kyr BP - 0000kyr BP</text>
<text x="82.3" y="126.5" font-size="17.3" textLength="138.5">Expt = tEVtr-tevta1</text>
<text x="704" y="123.8" font-size="17.4" textLength="38.6">ANN</text>
<text x="73" y="154.1" font-size="15" text-anchor="end">80N</text>
<text x="73" y="227.3" font-size="15" text-anchor="end">40N</text>
<text x="73" y="300.5" font-size="15" text-anchor="end">0</text>
<text x="73" y="373.7" font-size="15" text-anchor="end">40S</text>
<text x="73" y="446.9" font-size="15" text-anchor="end">80S</text>
<text x="83.1" y="481" font-size="15" text-anchor="middle">180</text>
<text x="192.9" y="481" font-size="15" text-anchor="middle">120W</text>
<text x="302.6" y="481" font-size="15" text-anchor="middle">60W</text>
<text x="412.4" y="481" font-size="15" text-anchor="middle">0</text>
<text x="522.2" y="481" font-size="15" text-anchor="middle">60E</text>
<text x="632.0" y="481" font-size="15" text-anchor="middle">120E</text>
<text x="741.8" y="481" font-size="15" text-anchor="middle">180</text>
</g>
<rect x="85.00" y="503.5" width="34.77" height="12" fill="#7a00e0"/>
<rect x="119.47" y="503.5" width="34.77" height="12" fill="#6806e0"/>
<rect x="153.95" y="503.5" width="34.77" height="12" fill="#4a10e0"/>
<rect x="188.42" y="503.5" width="34.77" height="12" fill="#3020e0"/>
<rect x="222.89" y="503.5" width="34.77" height="12" fill="#1040e0"/>
<rect x="257.37" y="503.5" width="34.77" height="12" fill="#1070e0"/>
<rect x="291.84" y="503.5" width="34.77" height="12" fill="#10a0e0"/>
<rect x="326.32" y="503.5" width="34.77" height="12" fill="#10b4e0"/>
<rect x="360.79" y="503.5" width="34.77" height="12" fill="#10c8e0"/>
<rect x="395.26" y="503.5" width="34.77" height="12" fill="#e6e6e6"/>
<rect x="429.74" y="503.5" width="34.77" height="12" fill="#10e090"/>
<rect x="464.21" y="503.5" width="34.77" height="12" fill="#30d020"/>
<rect x="498.68" y="503.5" width="34.77" height="12" fill="#80d820"/>
<rect x="533.16" y="503.5" width="34.77" height="12" fill="#c8d010"/>
<rect x="567.63" y="503.5" width="34.77" height="12" fill="#e8b810"/>
<rect x="602.11" y="503.5" width="34.77" height="12" fill="#e89010"/>
<rect x="636.58" y="503.5" width="34.77" height="12" fill="#e86010"/>
<rect x="671.05" y="503.5" width="34.77" height="12" fill="#e83810"/>
<rect x="705.53" y="503.5" width="34.77" height="12" fill="#e01010"/>
<path d="M119.47 503.5v12 M153.95 503.5v12 M188.42 503.5v12 M222.89 503.5v12 M257.37 503.5v12 M291.84 503.5v12 M326.32 503.5v12 M360.79 503.5v12 M395.26 503.5v12 M429.74 503.5v12 M464.21 503.5v12 M498.68 503.5v12 M533.16 503.5v12 M567.63 503.5v12 M602.11 503.5v12 M636.58 503.5v12 M671.05 503.5v12 M705.53 503.5v12" stroke="#202020" stroke-width="1" fill="none"/>
<rect x="85" y="503.5" width="655" height="12" fill="none" stroke="#202020" stroke-width="1"/>
<text x="119.2" y="532" font-size="18.5" text-anchor="middle" stroke="#000" stroke-width="0.45">-24</text>
<text x="153.6" y="532" font-size="18.5" text-anchor="middle" stroke="#000" stroke-width="0.45">-20</text>
<text x="188.1" y="532" font-size="18.5" text-anchor="middle" stroke="#000" stroke-width="0.45">-16</text>
<text x="222.6" y="532" font-size="18.5" text-anchor="middle" stroke="#000" stroke-width="0.45">-12</text>
<text x="257.1" y="532" font-size="18.5" text-anchor="middle" stroke="#000" stroke-width="0.45">-10</text>
<text x="291.5" y="532" font-size="18.5" text-anchor="middle" stroke="#000" stroke-width="0.45">-8</text>
<text x="326.0" y="532" font-size="18.5" text-anchor="middle" stroke="#000" stroke-width="0.45">-6</text>
<text x="360.5" y="532" font-size="18.5" text-anchor="middle" stroke="#000" stroke-width="0.45">-4</text>
<text x="395.0" y="532" font-size="18.5" text-anchor="middle" stroke="#000" stroke-width="0.45">-2</text>
<text x="429.7" y="532" font-size="18.5" text-anchor="middle" stroke="#000" stroke-width="0.45">2</text>
<text x="464.2" y="532" font-size="18.5" text-anchor="middle" stroke="#000" stroke-width="0.45">4</text>
<text x="498.7" y="532" font-size="18.5" text-anchor="middle" stroke="#000" stroke-width="0.45">6</text>
<text x="533.2" y="532" font-size="18.5" text-anchor="middle" stroke="#000" stroke-width="0.45">8</text>
<text x="567.6" y="532" font-size="18.5" text-anchor="middle" stroke="#000" stroke-width="0.45">10</text>
<text x="602.1" y="532" font-size="18.5" text-anchor="middle" stroke="#000" stroke-width="0.45">12</text>
<text x="636.6" y="532" font-size="18.5" text-anchor="middle" stroke="#000" stroke-width="0.45">16</text>
<text x="671.1" y="532" font-size="18.5" text-anchor="middle" stroke="#000" stroke-width="0.45">20</text>
<text x="705.5" y="532" font-size="18.5" text-anchor="middle" stroke="#000" stroke-width="0.45">24</text>
</svg>
</body></html>
